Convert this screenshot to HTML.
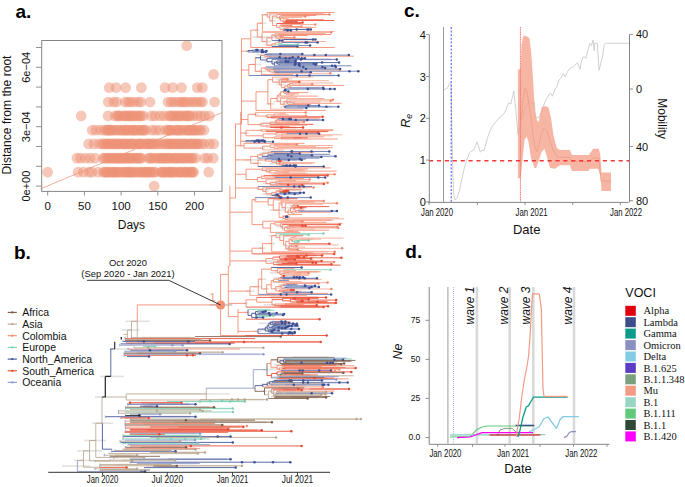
<!DOCTYPE html><html><head><meta charset="utf-8"><style>html,body{margin:0;padding:0;background:#fff;}svg{display:block;font-family:"Liberation Sans",sans-serif;}</style></head><body><svg width="685" height="487" viewBox="0 0 685 487">
<text x="15.5" y="18" font-size="19" fill="#000" font-weight="bold">a.</text>
<line x1="40.5" y1="188.9" x2="221.6" y2="112.8" stroke="#f09a80" stroke-width="0.8"/>
<g fill="#ee9176" fill-opacity="0.5">
<circle cx="47.7" cy="172.2" r="5.35"/>
<circle cx="78.1" cy="172.2" r="5.35"/>
<circle cx="83.4" cy="172.2" r="5.35"/>
<circle cx="89" cy="172.2" r="5.35"/>
<circle cx="92" cy="172.2" r="5.35"/>
<circle cx="98.3" cy="172.2" r="5.35"/>
<circle cx="103.5" cy="172.2" r="5.35"/>
<circle cx="104.9" cy="172.2" r="5.35"/>
<circle cx="106.3" cy="172.2" r="5.35"/>
<circle cx="107.6" cy="172.2" r="5.35"/>
<circle cx="109.5" cy="172.2" r="5.35"/>
<circle cx="111.6" cy="172.2" r="5.35"/>
<circle cx="112.9" cy="172.2" r="5.35"/>
<circle cx="114.1" cy="172.2" r="5.35"/>
<circle cx="115.9" cy="172.2" r="5.35"/>
<circle cx="117.4" cy="172.2" r="5.35"/>
<circle cx="119.4" cy="172.2" r="5.35"/>
<circle cx="121.1" cy="172.2" r="5.35"/>
<circle cx="123.1" cy="172.2" r="5.35"/>
<circle cx="125.7" cy="172.2" r="5.35"/>
<circle cx="126.1" cy="172.2" r="5.35"/>
<circle cx="128.4" cy="172.2" r="5.35"/>
<circle cx="129.6" cy="172.2" r="5.35"/>
<circle cx="130.9" cy="172.2" r="5.35"/>
<circle cx="132.3" cy="172.2" r="5.35"/>
<circle cx="134.3" cy="172.2" r="5.35"/>
<circle cx="136.4" cy="172.2" r="5.35"/>
<circle cx="138.7" cy="172.2" r="5.35"/>
<circle cx="140.6" cy="172.2" r="5.35"/>
<circle cx="142.2" cy="172.2" r="5.35"/>
<circle cx="144.3" cy="172.2" r="5.35"/>
<circle cx="145.8" cy="172.2" r="5.35"/>
<circle cx="147.3" cy="172.2" r="5.35"/>
<circle cx="148.4" cy="172.2" r="5.35"/>
<circle cx="150.3" cy="172.2" r="5.35"/>
<circle cx="151.5" cy="172.2" r="5.35"/>
<circle cx="153.9" cy="172.2" r="5.35"/>
<circle cx="155" cy="172.2" r="5.35"/>
<circle cx="160.9" cy="172.2" r="5.35"/>
<circle cx="161.8" cy="172.2" r="5.35"/>
<circle cx="163.2" cy="172.2" r="5.35"/>
<circle cx="164.8" cy="172.2" r="5.35"/>
<circle cx="166.5" cy="172.2" r="5.35"/>
<circle cx="168.4" cy="172.2" r="5.35"/>
<circle cx="170" cy="172.2" r="5.35"/>
<circle cx="170.7" cy="172.2" r="5.35"/>
<circle cx="172.8" cy="172.2" r="5.35"/>
<circle cx="173.4" cy="172.2" r="5.35"/>
<circle cx="175.7" cy="172.2" r="5.35"/>
<circle cx="178.5" cy="172.2" r="5.35"/>
<circle cx="179.5" cy="172.2" r="5.35"/>
<circle cx="181.4" cy="172.2" r="5.35"/>
<circle cx="183.1" cy="172.2" r="5.35"/>
<circle cx="185.3" cy="172.2" r="5.35"/>
<circle cx="186.3" cy="172.2" r="5.35"/>
<circle cx="188" cy="172.2" r="5.35"/>
<circle cx="190.3" cy="172.2" r="5.35"/>
<circle cx="191.5" cy="172.2" r="5.35"/>
<circle cx="192.5" cy="172.2" r="5.35"/>
<circle cx="193.7" cy="172.2" r="5.35"/>
<circle cx="208.7" cy="172.2" r="5.35"/>
<circle cx="76.9" cy="158.2" r="5.35"/>
<circle cx="80.5" cy="158.2" r="5.35"/>
<circle cx="85.5" cy="158.2" r="5.35"/>
<circle cx="90.1" cy="158.2" r="5.35"/>
<circle cx="95" cy="158.2" r="5.35"/>
<circle cx="103.1" cy="158.2" r="5.35"/>
<circle cx="104.7" cy="158.2" r="5.35"/>
<circle cx="106.7" cy="158.2" r="5.35"/>
<circle cx="107.9" cy="158.2" r="5.35"/>
<circle cx="109.4" cy="158.2" r="5.35"/>
<circle cx="111.1" cy="158.2" r="5.35"/>
<circle cx="113.2" cy="158.2" r="5.35"/>
<circle cx="114.1" cy="158.2" r="5.35"/>
<circle cx="115.7" cy="158.2" r="5.35"/>
<circle cx="117.6" cy="158.2" r="5.35"/>
<circle cx="118.3" cy="158.2" r="5.35"/>
<circle cx="120.5" cy="158.2" r="5.35"/>
<circle cx="121.3" cy="158.2" r="5.35"/>
<circle cx="123.4" cy="158.2" r="5.35"/>
<circle cx="125" cy="158.2" r="5.35"/>
<circle cx="125.7" cy="158.2" r="5.35"/>
<circle cx="128.2" cy="158.2" r="5.35"/>
<circle cx="129" cy="158.2" r="5.35"/>
<circle cx="130.6" cy="158.2" r="5.35"/>
<circle cx="132.3" cy="158.2" r="5.35"/>
<circle cx="133.5" cy="158.2" r="5.35"/>
<circle cx="135.7" cy="158.2" r="5.35"/>
<circle cx="137.5" cy="158.2" r="5.35"/>
<circle cx="138.2" cy="158.2" r="5.35"/>
<circle cx="140.4" cy="158.2" r="5.35"/>
<circle cx="141.3" cy="158.2" r="5.35"/>
<circle cx="148.2" cy="158.2" r="5.35"/>
<circle cx="150.5" cy="158.2" r="5.35"/>
<circle cx="150.8" cy="158.2" r="5.35"/>
<circle cx="154.2" cy="158.2" r="5.35"/>
<circle cx="156" cy="158.2" r="5.35"/>
<circle cx="158.8" cy="158.2" r="5.35"/>
<circle cx="160.1" cy="158.2" r="5.35"/>
<circle cx="162.2" cy="158.2" r="5.35"/>
<circle cx="163.6" cy="158.2" r="5.35"/>
<circle cx="165.1" cy="158.2" r="5.35"/>
<circle cx="166.9" cy="158.2" r="5.35"/>
<circle cx="168.7" cy="158.2" r="5.35"/>
<circle cx="170.1" cy="158.2" r="5.35"/>
<circle cx="172.2" cy="158.2" r="5.35"/>
<circle cx="174.4" cy="158.2" r="5.35"/>
<circle cx="175.2" cy="158.2" r="5.35"/>
<circle cx="177.4" cy="158.2" r="5.35"/>
<circle cx="179.6" cy="158.2" r="5.35"/>
<circle cx="181.1" cy="158.2" r="5.35"/>
<circle cx="183.7" cy="158.2" r="5.35"/>
<circle cx="184.8" cy="158.2" r="5.35"/>
<circle cx="187.3" cy="158.2" r="5.35"/>
<circle cx="189.3" cy="158.2" r="5.35"/>
<circle cx="191" cy="158.2" r="5.35"/>
<circle cx="192.7" cy="158.2" r="5.35"/>
<circle cx="195.7" cy="158.2" r="5.35"/>
<circle cx="204.6" cy="158.2" r="5.35"/>
<circle cx="207.9" cy="158.2" r="5.35"/>
<circle cx="213.3" cy="158.2" r="5.35"/>
<circle cx="88.6" cy="143.9" r="5.35"/>
<circle cx="93.9" cy="143.9" r="5.35"/>
<circle cx="99.2" cy="143.9" r="5.35"/>
<circle cx="102.4" cy="143.9" r="5.35"/>
<circle cx="103.7" cy="143.9" r="5.35"/>
<circle cx="106" cy="143.9" r="5.35"/>
<circle cx="106.9" cy="143.9" r="5.35"/>
<circle cx="108.8" cy="143.9" r="5.35"/>
<circle cx="110.3" cy="143.9" r="5.35"/>
<circle cx="112.4" cy="143.9" r="5.35"/>
<circle cx="113.5" cy="143.9" r="5.35"/>
<circle cx="114.9" cy="143.9" r="5.35"/>
<circle cx="117.3" cy="143.9" r="5.35"/>
<circle cx="118" cy="143.9" r="5.35"/>
<circle cx="119.7" cy="143.9" r="5.35"/>
<circle cx="122" cy="143.9" r="5.35"/>
<circle cx="123.5" cy="143.9" r="5.35"/>
<circle cx="124.9" cy="143.9" r="5.35"/>
<circle cx="126.5" cy="143.9" r="5.35"/>
<circle cx="128.2" cy="143.9" r="5.35"/>
<circle cx="130.1" cy="143.9" r="5.35"/>
<circle cx="131.6" cy="143.9" r="5.35"/>
<circle cx="132.9" cy="143.9" r="5.35"/>
<circle cx="134.9" cy="143.9" r="5.35"/>
<circle cx="137.5" cy="143.9" r="5.35"/>
<circle cx="139" cy="143.9" r="5.35"/>
<circle cx="140.2" cy="143.9" r="5.35"/>
<circle cx="141.6" cy="143.9" r="5.35"/>
<circle cx="144.2" cy="143.9" r="5.35"/>
<circle cx="146.4" cy="143.9" r="5.35"/>
<circle cx="148.2" cy="143.9" r="5.35"/>
<circle cx="149.1" cy="143.9" r="5.35"/>
<circle cx="150.7" cy="143.9" r="5.35"/>
<circle cx="153" cy="143.9" r="5.35"/>
<circle cx="153.3" cy="143.9" r="5.35"/>
<circle cx="155.5" cy="143.9" r="5.35"/>
<circle cx="158.2" cy="143.9" r="5.35"/>
<circle cx="160.5" cy="143.9" r="5.35"/>
<circle cx="163.3" cy="143.9" r="5.35"/>
<circle cx="165.8" cy="143.9" r="5.35"/>
<circle cx="167.5" cy="143.9" r="5.35"/>
<circle cx="168.8" cy="143.9" r="5.35"/>
<circle cx="170.6" cy="143.9" r="5.35"/>
<circle cx="172" cy="143.9" r="5.35"/>
<circle cx="173.4" cy="143.9" r="5.35"/>
<circle cx="175.6" cy="143.9" r="5.35"/>
<circle cx="177.4" cy="143.9" r="5.35"/>
<circle cx="178.9" cy="143.9" r="5.35"/>
<circle cx="181.4" cy="143.9" r="5.35"/>
<circle cx="182.6" cy="143.9" r="5.35"/>
<circle cx="184.3" cy="143.9" r="5.35"/>
<circle cx="185.7" cy="143.9" r="5.35"/>
<circle cx="188.5" cy="143.9" r="5.35"/>
<circle cx="190" cy="143.9" r="5.35"/>
<circle cx="191.3" cy="143.9" r="5.35"/>
<circle cx="193.4" cy="143.9" r="5.35"/>
<circle cx="195" cy="143.9" r="5.35"/>
<circle cx="197.4" cy="143.9" r="5.35"/>
<circle cx="197.9" cy="143.9" r="5.35"/>
<circle cx="201" cy="143.9" r="5.35"/>
<circle cx="204.1" cy="143.9" r="5.35"/>
<circle cx="209.5" cy="143.9" r="5.35"/>
<circle cx="213.8" cy="143.9" r="5.35"/>
<circle cx="92.2" cy="130.2" r="5.35"/>
<circle cx="96" cy="130.2" r="5.35"/>
<circle cx="100.6" cy="130.2" r="5.35"/>
<circle cx="104.5" cy="130.2" r="5.35"/>
<circle cx="106.7" cy="130.2" r="5.35"/>
<circle cx="107.7" cy="130.2" r="5.35"/>
<circle cx="109.2" cy="130.2" r="5.35"/>
<circle cx="110.3" cy="130.2" r="5.35"/>
<circle cx="112" cy="130.2" r="5.35"/>
<circle cx="113.7" cy="130.2" r="5.35"/>
<circle cx="116.3" cy="130.2" r="5.35"/>
<circle cx="118" cy="130.2" r="5.35"/>
<circle cx="120.4" cy="130.2" r="5.35"/>
<circle cx="121.7" cy="130.2" r="5.35"/>
<circle cx="124" cy="130.2" r="5.35"/>
<circle cx="125.4" cy="130.2" r="5.35"/>
<circle cx="127.2" cy="130.2" r="5.35"/>
<circle cx="128.3" cy="130.2" r="5.35"/>
<circle cx="130.7" cy="130.2" r="5.35"/>
<circle cx="133" cy="130.2" r="5.35"/>
<circle cx="133.6" cy="130.2" r="5.35"/>
<circle cx="135" cy="130.2" r="5.35"/>
<circle cx="137.7" cy="130.2" r="5.35"/>
<circle cx="139" cy="130.2" r="5.35"/>
<circle cx="141.1" cy="130.2" r="5.35"/>
<circle cx="143.2" cy="130.2" r="5.35"/>
<circle cx="143.7" cy="130.2" r="5.35"/>
<circle cx="145.9" cy="130.2" r="5.35"/>
<circle cx="151.9" cy="130.2" r="5.35"/>
<circle cx="155.6" cy="130.2" r="5.35"/>
<circle cx="159.7" cy="130.2" r="5.35"/>
<circle cx="165.4" cy="130.2" r="5.35"/>
<circle cx="168.1" cy="130.2" r="5.35"/>
<circle cx="169.3" cy="130.2" r="5.35"/>
<circle cx="170.4" cy="130.2" r="5.35"/>
<circle cx="172.2" cy="130.2" r="5.35"/>
<circle cx="175.4" cy="130.2" r="5.35"/>
<circle cx="176.8" cy="130.2" r="5.35"/>
<circle cx="178.2" cy="130.2" r="5.35"/>
<circle cx="179.7" cy="130.2" r="5.35"/>
<circle cx="182.1" cy="130.2" r="5.35"/>
<circle cx="183.8" cy="130.2" r="5.35"/>
<circle cx="186.7" cy="130.2" r="5.35"/>
<circle cx="188.2" cy="130.2" r="5.35"/>
<circle cx="189.5" cy="130.2" r="5.35"/>
<circle cx="191.4" cy="130.2" r="5.35"/>
<circle cx="193.2" cy="130.2" r="5.35"/>
<circle cx="194.8" cy="130.2" r="5.35"/>
<circle cx="196.2" cy="130.2" r="5.35"/>
<circle cx="199" cy="130.2" r="5.35"/>
<circle cx="200.7" cy="130.2" r="5.35"/>
<circle cx="204" cy="130.2" r="5.35"/>
<circle cx="81.2" cy="115.9" r="5.35"/>
<circle cx="108.1" cy="115.9" r="5.35"/>
<circle cx="115.2" cy="115.9" r="5.35"/>
<circle cx="117.3" cy="115.9" r="5.35"/>
<circle cx="118.8" cy="115.9" r="5.35"/>
<circle cx="120.1" cy="115.9" r="5.35"/>
<circle cx="123.1" cy="115.9" r="5.35"/>
<circle cx="125.1" cy="115.9" r="5.35"/>
<circle cx="126.3" cy="115.9" r="5.35"/>
<circle cx="128.8" cy="115.9" r="5.35"/>
<circle cx="129.8" cy="115.9" r="5.35"/>
<circle cx="131.8" cy="115.9" r="5.35"/>
<circle cx="133" cy="115.9" r="5.35"/>
<circle cx="135.1" cy="115.9" r="5.35"/>
<circle cx="137.2" cy="115.9" r="5.35"/>
<circle cx="139.2" cy="115.9" r="5.35"/>
<circle cx="140.9" cy="115.9" r="5.35"/>
<circle cx="143.2" cy="115.9" r="5.35"/>
<circle cx="151.4" cy="115.9" r="5.35"/>
<circle cx="155" cy="115.9" r="5.35"/>
<circle cx="160" cy="115.9" r="5.35"/>
<circle cx="164.3" cy="115.9" r="5.35"/>
<circle cx="169.1" cy="115.9" r="5.35"/>
<circle cx="170.8" cy="115.9" r="5.35"/>
<circle cx="172.5" cy="115.9" r="5.35"/>
<circle cx="174.8" cy="115.9" r="5.35"/>
<circle cx="176.2" cy="115.9" r="5.35"/>
<circle cx="178.8" cy="115.9" r="5.35"/>
<circle cx="180.2" cy="115.9" r="5.35"/>
<circle cx="182.3" cy="115.9" r="5.35"/>
<circle cx="184.9" cy="115.9" r="5.35"/>
<circle cx="186.8" cy="115.9" r="5.35"/>
<circle cx="188.4" cy="115.9" r="5.35"/>
<circle cx="189.9" cy="115.9" r="5.35"/>
<circle cx="193" cy="115.9" r="5.35"/>
<circle cx="197.2" cy="115.9" r="5.35"/>
<circle cx="200.7" cy="115.9" r="5.35"/>
<circle cx="204.6" cy="115.9" r="5.35"/>
<circle cx="209.4" cy="115.9" r="5.35"/>
<circle cx="108.2" cy="102" r="5.35"/>
<circle cx="113.7" cy="102" r="5.35"/>
<circle cx="116.7" cy="102" r="5.35"/>
<circle cx="125.1" cy="102" r="5.35"/>
<circle cx="128" cy="102" r="5.35"/>
<circle cx="130.6" cy="102" r="5.35"/>
<circle cx="134.1" cy="102" r="5.35"/>
<circle cx="138.3" cy="102" r="5.35"/>
<circle cx="140.8" cy="102" r="5.35"/>
<circle cx="150" cy="102" r="5.35"/>
<circle cx="168" cy="102" r="5.35"/>
<circle cx="171.2" cy="102" r="5.35"/>
<circle cx="174" cy="102" r="5.35"/>
<circle cx="177.8" cy="102" r="5.35"/>
<circle cx="180.6" cy="102" r="5.35"/>
<circle cx="182.8" cy="102" r="5.35"/>
<circle cx="184.9" cy="102" r="5.35"/>
<circle cx="187.5" cy="102" r="5.35"/>
<circle cx="191.1" cy="102" r="5.35"/>
<circle cx="193.9" cy="102" r="5.35"/>
<circle cx="197" cy="102" r="5.35"/>
<circle cx="200.5" cy="102" r="5.35"/>
<circle cx="202.6" cy="102" r="5.35"/>
<circle cx="214.6" cy="102" r="5.35"/>
<circle cx="109.2" cy="87.6" r="5.35"/>
<circle cx="116.1" cy="87.6" r="5.35"/>
<circle cx="125.6" cy="87.6" r="5.35"/>
<circle cx="141.3" cy="87.6" r="5.35"/>
<circle cx="165" cy="87.6" r="5.35"/>
<circle cx="172.7" cy="87.6" r="5.35"/>
<circle cx="181.5" cy="87.6" r="5.35"/>
<circle cx="197.2" cy="87.6" r="5.35"/>
<circle cx="202.4" cy="87.6" r="5.35"/>
<circle cx="213.6" cy="74.4" r="5.35"/>
<circle cx="186.7" cy="45.7" r="5.35"/>
<circle cx="154.2" cy="186.1" r="5.35"/>
</g>
<rect x="41.7" y="40.5" width="180.3" height="150.9" fill="none" stroke="#858585" stroke-width="1"/>
<line x1="36" y1="186.1" x2="41.7" y2="186.1" stroke="#858585" stroke-width="0.9"/>
<line x1="36" y1="166.3" x2="41.7" y2="166.3" stroke="#858585" stroke-width="0.9"/>
<line x1="36" y1="146.5" x2="41.7" y2="146.5" stroke="#858585" stroke-width="0.9"/>
<line x1="36" y1="126.7" x2="41.7" y2="126.7" stroke="#858585" stroke-width="0.9"/>
<line x1="36" y1="106.9" x2="41.7" y2="106.9" stroke="#858585" stroke-width="0.9"/>
<line x1="36" y1="87.1" x2="41.7" y2="87.1" stroke="#858585" stroke-width="0.9"/>
<line x1="36" y1="67.3" x2="41.7" y2="67.3" stroke="#858585" stroke-width="0.9"/>
<line x1="36" y1="47.5" x2="41.7" y2="47.5" stroke="#858585" stroke-width="0.9"/>
<text x="29.8" y="186.1" font-size="11" fill="#111" text-anchor="middle" transform="rotate(-90 29.8 186.1)">0e+00</text>
<text x="29.8" y="126.7" font-size="11" fill="#111" text-anchor="middle" transform="rotate(-90 29.8 126.7)">3e−04</text>
<text x="29.8" y="67.3" font-size="11" fill="#111" text-anchor="middle" transform="rotate(-90 29.8 67.3)">6e−04</text>
<line x1="47.7" y1="191.4" x2="47.7" y2="195.5" stroke="#858585" stroke-width="0.9"/>
<text x="47.7" y="209.5" font-size="11.5" fill="#111" text-anchor="middle">0</text>
<line x1="84.4" y1="191.4" x2="84.4" y2="195.5" stroke="#858585" stroke-width="0.9"/>
<text x="84.4" y="209.5" font-size="11.5" fill="#111" text-anchor="middle">50</text>
<line x1="121.1" y1="191.4" x2="121.1" y2="195.5" stroke="#858585" stroke-width="0.9"/>
<text x="121.1" y="209.5" font-size="11.5" fill="#111" text-anchor="middle">100</text>
<line x1="157.8" y1="191.4" x2="157.8" y2="195.5" stroke="#858585" stroke-width="0.9"/>
<text x="157.8" y="209.5" font-size="11.5" fill="#111" text-anchor="middle">150</text>
<line x1="194.5" y1="191.4" x2="194.5" y2="195.5" stroke="#858585" stroke-width="0.9"/>
<text x="194.5" y="209.5" font-size="11.5" fill="#111" text-anchor="middle">200</text>
<text x="131.4" y="228.5" font-size="12" fill="#111" text-anchor="middle">Days</text>
<text x="10.8" y="115" font-size="12.1" fill="#111" text-anchor="middle" transform="rotate(-90 10.8 115)">Distance from the root</text>
<text x="14" y="259" font-size="19" fill="#000" font-weight="bold">b.</text>
<text x="128" y="266.3" font-size="9.4" fill="#111" text-anchor="middle">Oct 2020</text>
<text x="128" y="276.8" font-size="9.4" fill="#111" text-anchor="middle">(Sep 2020 - Jan 2021)</text>
<line x1="7.7" y1="312.4" x2="16.9" y2="312.4" stroke="#7b5a45" stroke-width="1.1"/>
<circle cx="12.3" cy="312.4" r="1.1" fill="#7b5a45"/>
<text x="22.2" y="316.3" font-size="10.5" fill="#111">Africa</text>
<line x1="7.7" y1="324.1" x2="16.9" y2="324.1" stroke="#b9a58e" stroke-width="1.1"/>
<circle cx="12.3" cy="324.1" r="1.1" fill="#b9a58e"/>
<text x="22.2" y="328" font-size="10.5" fill="#111">Asia</text>
<line x1="7.7" y1="335.7" x2="16.9" y2="335.7" stroke="#f4876b" stroke-width="1.1"/>
<circle cx="12.3" cy="335.7" r="1.1" fill="#f4876b"/>
<text x="22.2" y="339.6" font-size="10.5" fill="#111">Colombia</text>
<line x1="7.7" y1="347.4" x2="16.9" y2="347.4" stroke="#7fd1b5" stroke-width="1.1"/>
<circle cx="12.3" cy="347.4" r="1.1" fill="#7fd1b5"/>
<text x="22.2" y="351.3" font-size="10.5" fill="#111">Europe</text>
<line x1="7.7" y1="359.1" x2="16.9" y2="359.1" stroke="#3b4f93" stroke-width="1.1"/>
<circle cx="12.3" cy="359.1" r="1.1" fill="#3b4f93"/>
<text x="22.2" y="363" font-size="10.5" fill="#111">North_America</text>
<line x1="7.7" y1="370.8" x2="16.9" y2="370.8" stroke="#e8472e" stroke-width="1.1"/>
<circle cx="12.3" cy="370.8" r="1.1" fill="#e8472e"/>
<text x="22.2" y="374.6" font-size="10.5" fill="#111">South_America</text>
<line x1="7.7" y1="382.4" x2="16.9" y2="382.4" stroke="#8c99c9" stroke-width="1.1"/>
<circle cx="12.3" cy="382.4" r="1.1" fill="#8c99c9"/>
<text x="22.2" y="386.3" font-size="10.5" fill="#111">Oceania</text>
<g fill="none" stroke-linecap="butt">
<rect x="285.7" y="13.5" width="41.1" height="2" fill="#f8c3b3" opacity="0.75"/>
<rect x="297.6" y="14.5" width="12.3" height="2" fill="#f8c3b3" opacity="0.75"/>
<rect x="279.4" y="15.2" width="4.9" height="1.6" fill="#e2e2e2" opacity="1"/>
<rect x="290.7" y="16.5" width="3.8" height="2" fill="#f8c3b3" opacity="0.75"/>
<rect x="279.2" y="17.2" width="4" height="1.6" fill="#e2e2e2" opacity="1"/>
<rect x="282.8" y="21.2" width="5.5" height="1.6" fill="#e2e2e2" opacity="1"/>
<rect x="271.7" y="16.9" width="12.2" height="1.6" fill="#e2e2e2" opacity="1"/>
<rect x="286" y="24.5" width="3.7" height="2" fill="#f8c3b3" opacity="0.75"/>
<rect x="298.1" y="26.5" width="13.6" height="2" fill="#f8c3b3" opacity="0.75"/>
<rect x="287.6" y="27.5" width="-0.1" height="2" fill="#f8c3b3" opacity="0.75"/>
<rect x="281.8" y="27.2" width="9.7" height="1.6" fill="#e2e2e2" opacity="1"/>
<rect x="280.6" y="28.8" width="7.2" height="1.6" fill="#e2e2e2" opacity="1"/>
<rect x="270" y="20" width="5.7" height="1.6" fill="#e2e2e2" opacity="1"/>
<rect x="261.3" y="14" width="15.2" height="1.6" fill="#e2e2e2" opacity="1"/>
<rect x="258.7" y="22.4" width="7.8" height="1.6" fill="#e2e2e2" opacity="1"/>
<rect x="298.5" y="33.5" width="24.9" height="2" fill="#f8c3b3" opacity="0.75"/>
<rect x="274.4" y="35.2" width="10.9" height="1.6" fill="#e2e2e2" opacity="1"/>
<rect x="289.4" y="38.5" width="23.1" height="2" fill="#c5cbe0" opacity="0.75"/>
<rect x="269" y="36" width="15.1" height="1.6" fill="#e2e2e2" opacity="1"/>
<rect x="270.8" y="34.3" width="8.6" height="1.6" fill="#e2e2e2" opacity="1"/>
<rect x="274.7" y="39.5" width="6.5" height="2" fill="#c5cbe0" opacity="0.75"/>
<rect x="260.8" y="37" width="17.4" height="1.6" fill="#e2e2e2" opacity="1"/>
<rect x="294.4" y="41.5" width="15.5" height="2" fill="#c5cbe0" opacity="0.75"/>
<rect x="264.8" y="44.4" width="10.6" height="1.6" fill="#e2e2e2" opacity="1"/>
<rect x="260.8" y="40.7" width="10.3" height="1.6" fill="#e2e2e2" opacity="1"/>
<rect x="252" y="36.2" width="17.7" height="1.6" fill="#e2e2e2" opacity="1"/>
<rect x="255.2" y="29.3" width="3.9" height="1.6" fill="#e2e2e2" opacity="1"/>
<rect x="252.5" y="51" width="6" height="2" fill="#c5cbe0" opacity="0.75"/>
<rect x="245.9" y="50.5" width="4.2" height="1.6" fill="#e2e2e2" opacity="1"/>
<rect x="256.2" y="53.8" width="15.8" height="1.6" fill="#e2e2e2" opacity="1"/>
<rect x="266.7" y="55.9" width="4.1" height="1.6" fill="#e2e2e2" opacity="1"/>
<rect x="274.7" y="57.3" width="23.5" height="2" fill="#c5cbe0" opacity="0.75"/>
<rect x="291.4" y="58.4" width="39.7" height="2" fill="#c5cbe0" opacity="0.75"/>
<rect x="284.5" y="62.7" width="28" height="2" fill="#c5cbe0" opacity="0.75"/>
<rect x="271.8" y="62.6" width="11.3" height="1.6" fill="#e2e2e2" opacity="1"/>
<rect x="275.5" y="61.4" width="3.5" height="1.6" fill="#e2e2e2" opacity="1"/>
<rect x="264.5" y="60.9" width="16" height="1.6" fill="#e2e2e2" opacity="1"/>
<rect x="255.2" y="57" width="14.3" height="1.6" fill="#e2e2e2" opacity="1"/>
<rect x="264.5" y="68.8" width="15.6" height="1.6" fill="#e2e2e2" opacity="1"/>
<rect x="271.8" y="72" width="7.5" height="1.6" fill="#e2e2e2" opacity="1"/>
<rect x="272.8" y="71.2" width="3.2" height="1.6" fill="#e2e2e2" opacity="1"/>
<rect x="266.8" y="70" width="7.7" height="1.6" fill="#e2e2e2" opacity="1"/>
<rect x="263.7" y="67.3" width="4.4" height="1.6" fill="#e2e2e2" opacity="1"/>
<rect x="253.9" y="70.5" width="16.5" height="1.6" fill="#e2e2e2" opacity="1"/>
<rect x="249.3" y="63.7" width="12.4" height="1.6" fill="#e2e2e2" opacity="1"/>
<rect x="290.2" y="74.5" width="44.5" height="2" fill="#c5cbe0" opacity="0.75"/>
<rect x="275.7" y="78.1" width="16.9" height="1.6" fill="#e2e2e2" opacity="1"/>
<rect x="277.2" y="79" width="9.5" height="1.6" fill="#e2e2e2" opacity="1"/>
<rect x="288.1" y="83.7" width="3.2" height="1.6" fill="#e2e2e2" opacity="1"/>
<rect x="290" y="85.6" width="-1.8" height="2" fill="#f8c3b3" opacity="0.75"/>
<rect x="305.6" y="86.8" width="14.9" height="2" fill="#c5cbe0" opacity="0.75"/>
<rect x="286.8" y="86.4" width="5" height="1.6" fill="#e2e2e2" opacity="1"/>
<rect x="276.2" y="83.8" width="9.4" height="1.6" fill="#e2e2e2" opacity="1"/>
<rect x="274.7" y="81.4" width="12.1" height="1.6" fill="#e2e2e2" opacity="1"/>
<rect x="290.5" y="93.9" width="2.3" height="2" fill="#f8c3b3" opacity="0.75"/>
<rect x="283.2" y="92.4" width="4.4" height="1.6" fill="#e2e2e2" opacity="1"/>
<rect x="281.4" y="90.9" width="4.6" height="1.6" fill="#e2e2e2" opacity="1"/>
<rect x="287.4" y="101" width="8" height="1.6" fill="#e2e2e2" opacity="1"/>
<rect x="283.6" y="102.3" width="11.9" height="1.6" fill="#e2e2e2" opacity="1"/>
<rect x="297.5" y="105.8" width="35" height="2" fill="#c5cbe0" opacity="0.75"/>
<rect x="280.2" y="106.3" width="9.5" height="1.6" fill="#e2e2e2" opacity="1"/>
<rect x="280.9" y="103.5" width="6.2" height="1.6" fill="#e2e2e2" opacity="1"/>
<rect x="273.5" y="100.6" width="17.8" height="1.6" fill="#e2e2e2" opacity="1"/>
<rect x="275.1" y="97.7" width="3.6" height="1.6" fill="#e2e2e2" opacity="1"/>
<rect x="266.5" y="103.1" width="8.1" height="1.6" fill="#e2e2e2" opacity="1"/>
<rect x="267.9" y="116.5" width="7.5" height="1.6" fill="#e2e2e2" opacity="1"/>
<rect x="265.1" y="115.3" width="3" height="1.6" fill="#e2e2e2" opacity="1"/>
<rect x="251.7" y="113.5" width="7.3" height="1.6" fill="#e2e2e2" opacity="1"/>
<rect x="288" y="119" width="31.1" height="2" fill="#c5cbe0" opacity="0.75"/>
<rect x="274.4" y="119.7" width="15.8" height="1.6" fill="#e2e2e2" opacity="1"/>
<rect x="286.4" y="121.1" width="12.1" height="2" fill="#f8c3b3" opacity="0.75"/>
<rect x="262.4" y="122.4" width="17.4" height="1.6" fill="#e2e2e2" opacity="1"/>
<rect x="279.9" y="125.4" width="5.8" height="2" fill="#f8c3b3" opacity="0.75"/>
<rect x="274.2" y="126.5" width="22" height="2" fill="#f4b0a2" opacity="0.75"/>
<rect x="258" y="123.8" width="6" height="1.6" fill="#e2e2e2" opacity="1"/>
<rect x="285.4" y="129.6" width="40.4" height="2" fill="#f8c3b3" opacity="0.75"/>
<rect x="259.1" y="129.5" width="3.2" height="1.6" fill="#e2e2e2" opacity="1"/>
<rect x="293.6" y="136.9" width="8" height="2" fill="#f4b0a2" opacity="0.75"/>
<rect x="243.8" y="132.2" width="4.9" height="1.6" fill="#e2e2e2" opacity="1"/>
<rect x="256.8" y="140.1" width="4.8" height="2" fill="#c5cbe0" opacity="0.75"/>
<rect x="255.5" y="140.8" width="10.9" height="2" fill="#c5cbe0" opacity="0.75"/>
<rect x="242.1" y="140.5" width="7.1" height="1.6" fill="#e2e2e2" opacity="1"/>
<rect x="285.1" y="143.4" width="4.2" height="2" fill="#f8c3b3" opacity="0.75"/>
<rect x="260.5" y="147.3" width="4.2" height="1.6" fill="#e2e2e2" opacity="1"/>
<rect x="290" y="151.4" width="20.7" height="2" fill="#f8c3b3" opacity="0.75"/>
<rect x="269" y="152.1" width="13.3" height="1.6" fill="#e2e2e2" opacity="1"/>
<rect x="263.2" y="151.4" width="11.5" height="1.6" fill="#e2e2e2" opacity="1"/>
<rect x="259.3" y="152.4" width="17.5" height="1.6" fill="#e2e2e2" opacity="1"/>
<rect x="262.2" y="155.6" width="11.4" height="1.6" fill="#e2e2e2" opacity="1"/>
<rect x="259" y="154" width="5.6" height="1.6" fill="#e2e2e2" opacity="1"/>
<rect x="279.9" y="158.9" width="17.2" height="2" fill="#c5cbe0" opacity="0.75"/>
<rect x="277.2" y="163.4" width="17.6" height="1.6" fill="#e2e2e2" opacity="1"/>
<rect x="283.5" y="164.6" width="11.1" height="2" fill="#c5cbe0" opacity="0.75"/>
<rect x="276.1" y="164.1" width="9" height="1.6" fill="#e2e2e2" opacity="1"/>
<rect x="269.1" y="162.8" width="16.6" height="1.6" fill="#e2e2e2" opacity="1"/>
<rect x="271.6" y="161.4" width="9.3" height="1.6" fill="#e2e2e2" opacity="1"/>
<rect x="253.2" y="162.5" width="7.9" height="1.6" fill="#e2e2e2" opacity="1"/>
<rect x="244.3" y="159.1" width="17.9" height="1.6" fill="#e2e2e2" opacity="1"/>
<rect x="283.3" y="169.1" width="19.7" height="2" fill="#f8c3b3" opacity="0.75"/>
<rect x="281.5" y="172.3" width="23.5" height="2" fill="#f8c3b3" opacity="0.75"/>
<rect x="288.4" y="173.3" width="40.9" height="2" fill="#f8c3b3" opacity="0.75"/>
<rect x="266.4" y="171" width="4.9" height="1.6" fill="#e2e2e2" opacity="1"/>
<rect x="260.3" y="169.6" width="11.2" height="1.6" fill="#e2e2e2" opacity="1"/>
<rect x="271.9" y="174.4" width="53" height="2" fill="#f4b0a2" opacity="0.75"/>
<rect x="272.3" y="176.2" width="4.2" height="1.6" fill="#e2e2e2" opacity="1"/>
<rect x="284.3" y="178.6" width="22.5" height="2" fill="#f8c3b3" opacity="0.75"/>
<rect x="270.9" y="181.5" width="10.8" height="1.6" fill="#e2e2e2" opacity="1"/>
<rect x="262.7" y="182.8" width="16.2" height="1.6" fill="#e2e2e2" opacity="1"/>
<rect x="285.3" y="186.6" width="23.1" height="2" fill="#f8c3b3" opacity="0.75"/>
<rect x="288.4" y="188.7" width="12.5" height="2" fill="#f8c3b3" opacity="0.75"/>
<rect x="283.8" y="190.8" width="-3.9" height="2" fill="#f4b0a2" opacity="0.75"/>
<rect x="289" y="191.8" width="9.6" height="2" fill="#c5cbe0" opacity="0.75"/>
<rect x="277.2" y="191.2" width="5.9" height="1.6" fill="#e2e2e2" opacity="1"/>
<rect x="275.5" y="190.1" width="6.3" height="1.6" fill="#e2e2e2" opacity="1"/>
<rect x="279.3" y="192.9" width="19.9" height="2" fill="#c5cbe0" opacity="0.75"/>
<rect x="266.2" y="194.6" width="16.5" height="1.6" fill="#e2e2e2" opacity="1"/>
<rect x="262.4" y="193.1" width="18.2" height="1.6" fill="#e2e2e2" opacity="1"/>
<rect x="262.3" y="190.5" width="6.1" height="1.6" fill="#e2e2e2" opacity="1"/>
<rect x="257.8" y="188.6" width="12.2" height="1.6" fill="#e2e2e2" opacity="1"/>
<rect x="256.1" y="187.2" width="3.9" height="1.6" fill="#e2e2e2" opacity="1"/>
<rect x="277.7" y="198.8" width="4.5" height="2" fill="#f8c3b3" opacity="0.75"/>
<rect x="298.6" y="199.9" width="23.7" height="2" fill="#f8c3b3" opacity="0.75"/>
<rect x="297.7" y="204.4" width="-5.7" height="2" fill="#f4b0a2" opacity="0.75"/>
<rect x="289.5" y="204.4" width="7.7" height="1.6" fill="#e2e2e2" opacity="1"/>
<rect x="297.6" y="206.7" width="6.4" height="2" fill="#f4b0a2" opacity="0.75"/>
<rect x="292.4" y="207.8" width="-5.9" height="2" fill="#f8c3b3" opacity="0.75"/>
<rect x="286.2" y="206.8" width="10.7" height="1.6" fill="#e2e2e2" opacity="1"/>
<rect x="286.5" y="211.5" width="11.5" height="1.6" fill="#e2e2e2" opacity="1"/>
<rect x="284.2" y="211.4" width="7" height="1.6" fill="#e2e2e2" opacity="1"/>
<rect x="281.3" y="206.9" width="9.8" height="1.6" fill="#e2e2e2" opacity="1"/>
<rect x="285.8" y="215.7" width="-5.2" height="2" fill="#c5cbe0" opacity="0.75"/>
<rect x="281.7" y="215.3" width="9.3" height="1.6" fill="#e2e2e2" opacity="1"/>
<rect x="292.4" y="219.1" width="38.6" height="2" fill="#f8c3b3" opacity="0.75"/>
<rect x="281.3" y="217.9" width="8.5" height="1.6" fill="#e2e2e2" opacity="1"/>
<rect x="269.7" y="209.3" width="16.3" height="1.6" fill="#e2e2e2" opacity="1"/>
<rect x="253.2" y="198.9" width="3.9" height="1.6" fill="#e2e2e2" opacity="1"/>
<rect x="279.5" y="220.2" width="14.9" height="2" fill="#f8c3b3" opacity="0.75"/>
<rect x="299.6" y="225.8" width="36.1" height="2" fill="#f8c3b3" opacity="0.75"/>
<rect x="281.1" y="226.6" width="12.9" height="1.6" fill="#e2e2e2" opacity="1"/>
<rect x="288.2" y="230.3" width="5.2" height="2" fill="#f8c3b3" opacity="0.75"/>
<rect x="276.9" y="226" width="11" height="1.6" fill="#e2e2e2" opacity="1"/>
<rect x="299.7" y="238.2" width="13.3" height="2" fill="#f8c3b3" opacity="0.75"/>
<rect x="292.8" y="240.1" width="6.4" height="1.6" fill="#e2e2e2" opacity="1"/>
<rect x="290.6" y="239.7" width="3.4" height="1.6" fill="#e2e2e2" opacity="1"/>
<rect x="284.8" y="245.8" width="13.1" height="1.6" fill="#e2e2e2" opacity="1"/>
<rect x="285.1" y="244.9" width="13.6" height="1.6" fill="#e2e2e2" opacity="1"/>
<rect x="292.8" y="248.4" width="0.3" height="2" fill="#f8c3b3" opacity="0.75"/>
<rect x="285.1" y="248" width="11.4" height="1.6" fill="#e2e2e2" opacity="1"/>
<rect x="286.4" y="248.1" width="4.7" height="1.6" fill="#e2e2e2" opacity="1"/>
<rect x="268.5" y="234.8" width="15.6" height="1.6" fill="#e2e2e2" opacity="1"/>
<rect x="301.9" y="250.7" width="26" height="2" fill="#f8c3b3" opacity="0.75"/>
<rect x="268" y="242.8" width="7.3" height="1.6" fill="#e2e2e2" opacity="1"/>
<rect x="271.7" y="251.8" width="39.1" height="2" fill="#f8c3b3" opacity="0.75"/>
<rect x="259.2" y="247.4" width="6.5" height="1.6" fill="#e2e2e2" opacity="1"/>
<rect x="296.9" y="254.4" width="19.2" height="2" fill="#f4b0a2" opacity="0.75"/>
<rect x="286.8" y="255.8" width="5.4" height="1.6" fill="#e2e2e2" opacity="1"/>
<rect x="285.7" y="259.2" width="20.2" height="2" fill="#f8c3b3" opacity="0.75"/>
<rect x="306.1" y="260.9" width="26.4" height="2" fill="#f8c3b3" opacity="0.75"/>
<rect x="283.1" y="261.5" width="10.9" height="1.6" fill="#e2e2e2" opacity="1"/>
<rect x="275" y="262.1" width="14.8" height="1.6" fill="#e2e2e2" opacity="1"/>
<rect x="270" y="261.2" width="17.5" height="1.6" fill="#e2e2e2" opacity="1"/>
<rect x="259.6" y="260.1" width="13.3" height="1.6" fill="#e2e2e2" opacity="1"/>
<rect x="298.3" y="270.8" width="19.6" height="2" fill="#f8c3b3" opacity="0.75"/>
<rect x="295.3" y="271.9" width="6" height="2" fill="#f8c3b3" opacity="0.75"/>
<rect x="291.5" y="274.1" width="9.8" height="2" fill="#f8c3b3" opacity="0.75"/>
<rect x="269.7" y="272" width="20.2" height="1.6" fill="#e2e2e2" opacity="1"/>
<rect x="274.4" y="269.9" width="6.3" height="1.6" fill="#e2e2e2" opacity="1"/>
<rect x="275.7" y="278" width="13.7" height="1.6" fill="#e2e2e2" opacity="1"/>
<rect x="273.8" y="277.2" width="13.2" height="1.6" fill="#e2e2e2" opacity="1"/>
<rect x="271.9" y="281.2" width="12.7" height="1.6" fill="#e2e2e2" opacity="1"/>
<rect x="288.1" y="283.7" width="3.7" height="2" fill="#c5cbe0" opacity="0.75"/>
<rect x="282.1" y="283.4" width="13" height="1.6" fill="#e2e2e2" opacity="1"/>
<rect x="278.2" y="284.2" width="10.9" height="1.6" fill="#e2e2e2" opacity="1"/>
<rect x="300.5" y="285.9" width="15.6" height="2" fill="#c5cbe0" opacity="0.75"/>
<rect x="276.9" y="287.4" width="14.1" height="1.6" fill="#e2e2e2" opacity="1"/>
<rect x="278.4" y="285.8" width="5.1" height="1.6" fill="#e2e2e2" opacity="1"/>
<rect x="280.2" y="290.9" width="6.2" height="1.6" fill="#e2e2e2" opacity="1"/>
<rect x="274.2" y="287.9" width="3.2" height="1.6" fill="#e2e2e2" opacity="1"/>
<rect x="264.2" y="288.2" width="4.8" height="1.6" fill="#e2e2e2" opacity="1"/>
<rect x="259.6" y="278.3" width="6.6" height="1.6" fill="#e2e2e2" opacity="1"/>
<rect x="253" y="285.9" width="8.9" height="1.6" fill="#e2e2e2" opacity="1"/>
<rect x="245.7" y="290.3" width="9.5" height="1.6" fill="#e2e2e2" opacity="1"/>
<rect x="270.2" y="296.4" width="47.8" height="2" fill="#f4b0a2" opacity="0.75"/>
<rect x="307.3" y="300.8" width="18.7" height="2" fill="#f4b0a2" opacity="0.75"/>
<rect x="291.7" y="301.2" width="13" height="1.6" fill="#e2e2e2" opacity="1"/>
<rect x="278.1" y="304.9" width="5.2" height="1.6" fill="#e2e2e2" opacity="1"/>
<rect x="263.7" y="304.1" width="17.9" height="1.6" fill="#e2e2e2" opacity="1"/>
<rect x="279.4" y="306.1" width="41" height="2" fill="#f4b0a2" opacity="0.75"/>
<rect x="243.7" y="302.6" width="4.2" height="1.6" fill="#e2e2e2" opacity="1"/>
<rect x="261.8" y="312.1" width="7.9" height="2" fill="#c5cbe0" opacity="0.75"/>
<rect x="267.6" y="313.9" width="8.3" height="2" fill="#c5cbe0" opacity="0.75"/>
<rect x="254.8" y="314.4" width="3.1" height="1.6" fill="#e2e2e2" opacity="1"/>
<rect x="252.7" y="312.5" width="5" height="1.6" fill="#e2e2e2" opacity="1"/>
<rect x="244.4" y="311.6" width="5.7" height="1.6" fill="#e2e2e2" opacity="1"/>
<rect x="280.1" y="321.1" width="8.7" height="2" fill="#f4b0a2" opacity="0.75"/>
<rect x="270.2" y="321.7" width="12.4" height="1.6" fill="#e2e2e2" opacity="1"/>
<rect x="268.9" y="321.4" width="6.8" height="1.6" fill="#e2e2e2" opacity="1"/>
<rect x="258.9" y="322.5" width="19.5" height="1.6" fill="#e2e2e2" opacity="1"/>
<rect x="284.1" y="324.2" width="10.3" height="2" fill="#c5cbe0" opacity="0.75"/>
<rect x="270.4" y="324.8" width="11.7" height="1.6" fill="#e2e2e2" opacity="1"/>
<rect x="269.4" y="326.5" width="4.5" height="1.6" fill="#e2e2e2" opacity="1"/>
<rect x="274.8" y="329.6" width="-2.7" height="2" fill="#c5cbe0" opacity="0.75"/>
<rect x="259.9" y="329.4" width="17.8" height="1.6" fill="#e2e2e2" opacity="1"/>
<rect x="271.3" y="330.3" width="-4.5" height="2" fill="#c5cbe0" opacity="0.75"/>
<rect x="270.3" y="331.7" width="4.8" height="1.6" fill="#e2e2e2" opacity="1"/>
<rect x="268" y="331.1" width="5.2" height="1.6" fill="#e2e2e2" opacity="1"/>
<rect x="262" y="328.3" width="6.8" height="1.6" fill="#e2e2e2" opacity="1"/>
<rect x="253.7" y="330.6" width="7.4" height="1.6" fill="#e2e2e2" opacity="1"/>
<rect x="209.6" y="304.1" width="22.7" height="1.6" fill="#c8c8c8" opacity="1"/>
<rect x="125.7" y="320.5" width="24" height="1.6" fill="#e2e2e2" opacity="1"/>
<rect x="122" y="329.2" width="18" height="1.6" fill="#e2e2e2" opacity="1"/>
<rect x="142.2" y="336.6" width="48" height="2" fill="#e6ddd2" opacity="0.75"/>
<rect x="136.8" y="340.4" width="53.6" height="2" fill="#c5cbe0" opacity="0.75"/>
<rect x="230.5" y="340.9" width="88.6" height="2" fill="#f4b0a2" opacity="0.75"/>
<rect x="154" y="342" width="79.2" height="2" fill="#f4b0a2" opacity="0.75"/>
<rect x="144.9" y="345.4" width="8.5" height="2" fill="#cdeee3" opacity="0.75"/>
<rect x="147.9" y="349.2" width="35.4" height="2" fill="#c5cbe0" opacity="0.75"/>
<rect x="136.8" y="351.2" width="82.8" height="2" fill="#e6ddd2" opacity="0.75"/>
<rect x="137.4" y="352.3" width="58.3" height="2" fill="#d8cbbf" opacity="0.75"/>
<rect x="151.2" y="353.2" width="108.8" height="2" fill="#d6dbef" opacity="0.75"/>
<rect x="100" y="375.6" width="24" height="1.6" fill="#e2e2e2" opacity="1"/>
<rect x="110" y="348.2" width="20" height="1.6" fill="#e2e2e2" opacity="1"/>
<rect x="160" y="393.2" width="70" height="1.4" fill="#e2e2e2" opacity="1"/>
<rect x="292.8" y="356.4" width="34.9" height="2" fill="#d8cbbf" opacity="0.75"/>
<rect x="276.3" y="358.5" width="16.1" height="1.6" fill="#e2e2e2" opacity="1"/>
<rect x="294.1" y="360.2" width="55.9" height="2" fill="#d8cbbf" opacity="0.75"/>
<rect x="277.4" y="360.8" width="14.3" height="1.6" fill="#e2e2e2" opacity="1"/>
<rect x="282.8" y="361.4" width="3.4" height="1.6" fill="#e2e2e2" opacity="1"/>
<rect x="276" y="359.9" width="13.8" height="1.6" fill="#e2e2e2" opacity="1"/>
<rect x="276.5" y="361.3" width="5.3" height="1.6" fill="#e2e2e2" opacity="1"/>
<rect x="271.2" y="359" width="10.1" height="1.6" fill="#e2e2e2" opacity="1"/>
<rect x="274" y="363.9" width="18.7" height="1.6" fill="#e2e2e2" opacity="1"/>
<rect x="278.3" y="364.6" width="7" height="1.6" fill="#e2e2e2" opacity="1"/>
<rect x="303.4" y="366.4" width="35.8" height="2" fill="#f8c3b3" opacity="0.75"/>
<rect x="294.4" y="367.9" width="38.7" height="2" fill="#f8c3b3" opacity="0.75"/>
<rect x="302.5" y="370.2" width="28.8" height="2" fill="#f8c3b3" opacity="0.75"/>
<rect x="270" y="368.3" width="16.3" height="1.6" fill="#e2e2e2" opacity="1"/>
<rect x="289.4" y="373.2" width="3.4" height="2" fill="#f8c3b3" opacity="0.75"/>
<rect x="281.1" y="373.1" width="5.8" height="1.6" fill="#e2e2e2" opacity="1"/>
<rect x="280.9" y="372.5" width="5.2" height="1.6" fill="#e2e2e2" opacity="1"/>
<rect x="293.2" y="374" width="16.9" height="2" fill="#f4b0a2" opacity="0.75"/>
<rect x="278" y="373.4" width="7.3" height="1.6" fill="#e2e2e2" opacity="1"/>
<rect x="275.6" y="372.7" width="2.5" height="1.6" fill="#e2e2e2" opacity="1"/>
<rect x="291.1" y="375.6" width="45.1" height="2" fill="#d6dbef" opacity="0.75"/>
<rect x="286.3" y="376.3" width="34.3" height="2" fill="#d8cbbf" opacity="0.75"/>
<rect x="272.8" y="376.1" width="9.7" height="1.6" fill="#e2e2e2" opacity="1"/>
<rect x="305.9" y="377.1" width="21.3" height="2" fill="#f4b0a2" opacity="0.75"/>
<rect x="274.3" y="378.4" width="12.4" height="1.6" fill="#e2e2e2" opacity="1"/>
<rect x="270.2" y="377" width="17" height="1.6" fill="#e2e2e2" opacity="1"/>
<rect x="262" y="368.8" width="11.6" height="1.6" fill="#e2e2e2" opacity="1"/>
<rect x="304.7" y="381.6" width="41.2" height="2" fill="#c5cbe0" opacity="0.75"/>
<rect x="266.6" y="381" width="12.6" height="1.6" fill="#e2e2e2" opacity="1"/>
<rect x="285.1" y="383.8" width="37.8" height="2" fill="#c5cbe0" opacity="0.75"/>
<rect x="260.3" y="383.6" width="12.9" height="1.6" fill="#e2e2e2" opacity="1"/>
<rect x="278.5" y="386.9" width="20.9" height="2" fill="#d8cbbf" opacity="0.75"/>
<rect x="309.5" y="388" width="38.1" height="2" fill="#f4b0a2" opacity="0.75"/>
<rect x="282.9" y="389" width="13.1" height="2" fill="#f4b0a2" opacity="0.75"/>
<rect x="276.3" y="390.8" width="3.8" height="1.6" fill="#e2e2e2" opacity="1"/>
<rect x="285.2" y="392.2" width="40.2" height="2" fill="#c5cbe0" opacity="0.75"/>
<rect x="273.7" y="392.9" width="9.3" height="1.6" fill="#e2e2e2" opacity="1"/>
<rect x="270.5" y="391.9" width="11.3" height="1.6" fill="#e2e2e2" opacity="1"/>
<rect x="273.8" y="394.4" width="3.1" height="1.6" fill="#e2e2e2" opacity="1"/>
<rect x="290" y="396.4" width="28.4" height="2" fill="#d8cbbf" opacity="0.75"/>
<rect x="271" y="395.5" width="8.3" height="1.6" fill="#e2e2e2" opacity="1"/>
<rect x="269.9" y="390.3" width="3.7" height="1.6" fill="#e2e2e2" opacity="1"/>
<rect x="261.8" y="390.5" width="5.4" height="1.6" fill="#e2e2e2" opacity="1"/>
<rect x="220.2" y="398.6" width="43.7" height="2" fill="#e6ddd2" opacity="0.75"/>
<rect x="195.9" y="400.5" width="48.1" height="2" fill="#cdeee3" opacity="0.75"/>
<rect x="141.3" y="401.7" width="38.1" height="2" fill="#f4b0a2" opacity="0.75"/>
<rect x="148.5" y="403.2" width="41.1" height="2" fill="#c5cbe0" opacity="0.75"/>
<rect x="143.1" y="405.2" width="9.6" height="2" fill="#c5cbe0" opacity="0.75"/>
<rect x="144.9" y="406.3" width="64.6" height="2" fill="#d8cbbf" opacity="0.75"/>
<rect x="141.2" y="407.5" width="90.3" height="2" fill="#cdeee3" opacity="0.75"/>
<rect x="136.3" y="412.2" width="50.2" height="2" fill="#e6ddd2" opacity="0.75"/>
<rect x="139" y="413.2" width="17.5" height="2" fill="#d6dbef" opacity="0.75"/>
<rect x="139.7" y="415.7" width="50.8" height="2" fill="#c5cbe0" opacity="0.75"/>
<rect x="124.7" y="416.9" width="20.6" height="2" fill="#f4b0a2" opacity="0.75"/>
<rect x="200.6" y="418.1" width="155.8" height="2" fill="#e6ddd2" opacity="0.75"/>
<rect x="174.6" y="421.2" width="92.3" height="2" fill="#d8cbbf" opacity="0.75"/>
<rect x="142.7" y="422.5" width="71" height="2" fill="#f8c3b3" opacity="0.75"/>
<rect x="178.8" y="425.9" width="61.7" height="2" fill="#f4b0a2" opacity="0.75"/>
<rect x="168.6" y="428.4" width="56.3" height="2" fill="#f4b0a2" opacity="0.75"/>
<rect x="146.8" y="429.2" width="110.3" height="2" fill="#f4b0a2" opacity="0.75"/>
<rect x="155.3" y="432.3" width="40.1" height="2" fill="#d6dbef" opacity="0.75"/>
<rect x="137.5" y="433.3" width="23.1" height="2" fill="#f4b0a2" opacity="0.75"/>
<rect x="131.7" y="434.4" width="65.6" height="2" fill="#cdeee3" opacity="0.75"/>
<rect x="155.2" y="437.9" width="49.3" height="2" fill="#cdeee3" opacity="0.75"/>
<rect x="140.9" y="446.3" width="41.7" height="2" fill="#d8cbbf" opacity="0.75"/>
<rect x="140.9" y="447.4" width="55.5" height="2" fill="#f8c3b3" opacity="0.75"/>
<rect x="125.1" y="449.5" width="41.4" height="2" fill="#e6ddd2" opacity="0.75"/>
<rect x="166.5" y="451.4" width="36.6" height="2" fill="#e6ddd2" opacity="0.75"/>
<rect x="115.1" y="454.2" width="17.4" height="2" fill="#e6ddd2" opacity="0.75"/>
<rect x="168" y="458.2" width="59" height="2" fill="#c5cbe0" opacity="0.75"/>
<rect x="122.2" y="459.2" width="49.8" height="2" fill="#e6ddd2" opacity="0.75"/>
<rect x="157.1" y="462.4" width="40.8" height="2" fill="#d6dbef" opacity="0.75"/>
<rect x="114.5" y="463.6" width="53" height="2" fill="#e6ddd2" opacity="0.75"/>
<rect x="146.1" y="464.8" width="91.2" height="2" fill="#e6ddd2" opacity="0.75"/>
<rect x="157.4" y="465.1" width="14.5" height="2" fill="#d8cbbf" opacity="0.75"/>
<rect x="140.6" y="470.4" width="1.6" height="2" fill="#c5cbe0" opacity="0.75"/>
<rect x="95" y="396.2" width="11" height="1.6" fill="#e2e2e2" opacity="1"/>
<rect x="92" y="422.4" width="21" height="1.6" fill="#e2e2e2" opacity="1"/>
<rect x="84" y="439.7" width="22" height="1.6" fill="#e2e2e2" opacity="1"/>
<rect x="77" y="450" width="25" height="1.6" fill="#e2e2e2" opacity="1"/>
<rect x="74" y="459.6" width="17" height="1.6" fill="#e2e2e2" opacity="1"/>
<rect x="62" y="465.2" width="28" height="1.6" fill="#e2e2e2" opacity="1"/>
<path d="M267.2 12.5H334.7M276.8 14.5H329.4M281.6 15.5H316.3M281.6 15.5V16.5M281.5 17.5V18.5M286 19.5H324M286 19.5V20.5M282.9 20H286M282.9 20V22M280.5 18H281.5M280.5 21H282.9M280.5 18V21M279.6 16H281.6M279.6 19.5H280.5M279.6 16V19.5M276.8 17.8H279.6M276.8 14.5V17.8M282 25.5H291M282 26.5H301.3M282 25.5V26.5M281.1 26H282M281.1 24.5V26M287.2 27.5V28.5M284.3 28H287.2M284.3 28V29.5M283.2 28.8H284.3M283.2 28.8V30.5M280 25.2H281.1M280 29.6H283.2M280 25.2V29.6M276.7 27.4H280M276.7 23.5V27.4M272.4 16.1H276.8M272.4 25.5H276.7M272.4 16.1V25.5M269.8 20.8H272.4M269.8 13.5V20.8M267.2 17.1H269.8M267.2 12.5V17.1M262.4 14.8H267.2M262.4 14.8V31.5M278.3 34.5H330.9M279.8 35.5H307.6M279.8 36.5H283.5M279.8 35.5V36.5M278.3 36H279.8M278.3 34.5V36M280.2 37.5H294.4M283.9 38.5V39.5M280.2 39H283.9M280.2 37.5V39M276.4 35.2H278.3M276.4 38.2H280.2M276.4 35.2V38.2M275.1 36.8H276.4M275.1 33.5V36.8M271.9 35.1H275.1M271.9 35.1V40.5M281.7 41.5V42.5M278.7 42H281.7M278.7 42V43.5M275.2 42.8H278.7M275.2 42.8V45M271.9 43.9H275.2M271.9 43.9V46.5M266.9 37.8H271.9M266.9 45.2H271.9M266.9 37.8V45.2M262.1 41.5H266.9M262.1 32.5V41.5M257.3 23.2H262.4M257.3 37H262.1M257.3 23.2V37M250.8 47.5H334.7M250.8 30.1H257.3M250.8 30.1V47.5M241.5 38.8H250.8M241.5 51.2H248M269.3 56.2H353.8M269.3 56.2V57.2M264.8 56.7H269.3M264.8 54.6V56.7M260.5 55.6H264.8M273.1 69V70.1M275.5 72.2V73.3M274.1 72.8H275.5M274.1 71.2V72.8M269.7 69.6H273.1M269.7 72H274.1M269.7 69.6V72M267.8 70.8H269.7M267.8 68V70.8M265.8 69.4H267.8M265.8 66.9V69.4M261.3 74.4H293.1M261.3 68.1H265.8M261.3 68.1V74.4M255.3 71.3H261.3M255.3 57.8V71.3M248.8 64.5H255.3M248.8 64.5V75.5M241.5 70H248.8M282.5 78.3H288.5M282.5 79.5H287.5M282.5 78.3V79.5M281.5 78.9H282.5M281.5 78.9V80.7M292.5 83V84.2M289.3 85.4H344.1M289.3 83.6H292.5M289.3 83.6V85.4M289.8 86.6V87.8M287.6 84.5H289.3M287.6 87.2H289.8M287.6 84.5V87.2M284.7 85.9H287.6M284.7 85.9V89M281.3 87.4H284.7M281.3 81.9V87.4M279.2 79.8H281.5M279.2 84.6H281.3M279.2 79.8V84.6M272.6 82.2H279.2M272.6 77.1V82.2M287.5 92.6H308.3M287.5 91.4V92.6M288.1 93.8H299M288.1 93.8V94.9M286.1 92H287.5M286.1 94.3H288.1M286.1 92V94.3M283.8 93.2H286.1M283.8 90.2V93.2M280.7 96.1H317.8M280.7 91.7H283.8M280.7 91.7V96.1M278.9 93.9H280.7M278.9 93.9V97.3M293.1 103.3H341.5M293.1 102.1V103.3M290.1 102.7H293.1M290.1 100.9V102.7M287.8 104.5H311M287.8 101.8H290.1M287.8 101.8V104.5M286.9 103.1H287.8M286.9 99.7V103.1M284 101.4H286.9M284 101.4V107.1M280.4 104.3H284M280.4 98.5V104.3M277.2 95.6H278.9M277.2 101.4H280.4M277.2 95.6V101.4M270.7 98.5H277.2M270.7 98.5V109.2M267.9 79.7H272.6M267.9 103.9H270.7M267.9 79.7V103.9M256 110.4H325.8M256 91.8H267.9M256 91.8V110.4M241.5 101.1H256M280.1 113.6V114.7M273.9 114.1H280.1M273.9 114.1V115.7M266.9 114.9H273.9M266.9 114.9V117.3M255.4 116.1H266.9M255.4 112.5V116.1M282 120V121.1M278.5 120.5H282M278.5 118.9V120.5M276.7 122.1H303.9M276.7 119.7H278.5M276.7 119.7V122.1M275.6 123.2H299.7M275.6 120.9H276.7M275.6 120.9V123.2M270.1 122.1H275.6M270.1 122.1V124.3M270.4 126.4H289.5M270.4 126.4V127.5M266.1 126.9H270.4M266.1 125.3V126.9M260.9 123.2H270.1M260.9 126.1H266.1M260.9 123.2V126.1M248 114.3H255.4M248 124.6H260.9M248 114.3V124.6M240.7 119.5H248M266.1 130.6H333.1M266.1 130.6V131.6M261.1 131.1H266.1M261.1 129.5V131.1M286.8 133.7V134.8M282.1 134.2H286.8M282.1 134.2V135.8M275.9 135H282.1M275.9 132.7V135M274.6 136.9H324.1M281 139H337.7M281 137.9V139M274.6 138.4H281M274.6 136.9V138.4M263.1 133.9H275.9M263.1 137.7H274.6M263.1 133.9V137.7M246 130.3H261.1M246 135.8H263.1M246 130.3V135.8M240.7 133H246M240.7 141.3H246M244 143.3H304.5M274.4 144.4H296.9M274.4 144.4V145.5M277.4 147.7H332.7M277.4 147.7V148.8M274 148.3H277.4M274 146.6V148.3M270.1 144.9H274.4M270.1 147.4H274M270.1 144.9V147.4M262.6 146.2H270.1M262.6 146.2V149.9M244 148.1H262.6M244 143.3V148.1M235.5 145.7H244M274.1 152.4V153.4M271.2 152.9H274.1M271.2 151.5V152.9M267.9 152.2H271.2M267.9 152.2V154.3M262.2 153.2H267.9M262.2 153.2V156.4M257.6 154.8H262.2M257.6 154.8V158.1M280.3 162.8H315M280.3 161.8V162.8M283.4 163.7V164.6M281.8 164.2H283.4M281.8 164.2V165.6M279.5 162.3H280.3M279.5 164.9H281.8M279.5 162.3V164.9M276.3 163.6H279.5M276.3 160.9V163.6M271.7 162.2H276.3M271.7 159.9V162.2M265.3 161.1H271.7M265.3 159V161.1M258 160H265.3M258 160V166.5M250.7 156.4H257.6M250.7 163.3H258M250.7 156.4V163.3M235.5 159.9H250.7M262.3 167.9H330.8M266.2 169H308M277 171.1H336.6M277 170.1V171.1M275.4 172.2H289.7M278.3 174.3H334.5M278.3 173.3V174.3M275.4 173.8H278.3M275.4 172.2V173.8M269.2 170.6H277M269.2 173H275.4M269.2 170.6V173M266.2 171.8H269.2M266.2 169V171.8M262.3 170.4H266.2M262.3 167.9V170.4M274.8 176.4H318.8M274.8 176.4V177.5M264.2 177H274.8M264.2 175.4V177M261.3 178.6H303.7M261.3 176.2H264.2M261.3 176.2V178.6M278.7 180.7H295.9M278.7 181.8H309.7M278.7 180.7V181.8M279.4 182.8V183.9M276 181.2H278.7M276 183.4H279.4M276 181.2V183.4M270.3 182.3H276M270.3 182.3V185M266 183.6H270.3M266 179.6V183.6M257.3 177.4H261.3M257.3 181.6H266M257.3 177.4V181.6M246 169.2H262.3M246 179.5H257.3M246 169.2V179.5M235.5 174.3H246M266 188.6H282.1M279 189.7H302.2M279 189.7V192M276.2 190.9H279M276.2 190.9V193.9M271.7 192.4H276.2M271.7 192.4V195.4M266 193.9H271.7M266 188.6V193.9M262.8 191.3H266M262.8 187.6V191.3M258 189.4H262.8M258 186.5V189.4M235.5 188H258M281.1 200.9H323.7M282.1 202.1H314.5M285.3 203.2H336.9M293.9 204.3V206M292.9 205.2H293.9M292.9 205.2V207.7M291.6 206.4H292.9M291.6 206.4V208.8M298.6 209.9H304.4M298.6 209.9V211.1M295.5 212.2H330.9M295.5 210.5H298.6M295.5 210.5V212.2M292 211.3H295.5M292 211.3V213.3M290.5 207.6H291.6M290.5 212.3H292M290.5 207.6V212.3M288.1 214.4H302.3M288.1 210H290.5M288.1 210V214.4M285.3 212.2H288.1M285.3 203.2V212.2M282.1 207.7H285.3M282.1 202.1V207.7M281.1 204.9H282.1M281.1 200.9V204.9M285.6 215.6H287.9M285.6 215.6V216.7M287.4 220.1H333.4M287.4 218.9V220.1M285 219.5H287.4M285 217.8V219.5M283.3 216.1H285.6M283.3 218.7H285M283.3 216.1V218.7M279.1 202.9H281.1M279.1 217.4H283.3M279.1 202.9V217.4M273.3 210.1H279.1M273.3 199.8V210.1M268.2 205H273.3M268.2 198.7V205M255.1 201.8H268.2M255.1 197.6V201.8M262.8 221.2H302.3M275 222.3H326.6M289 226.8H337.3M289 225.7V226.8M288.7 227.9H338.1M288.7 227.9V229.1M287 226.2H289M287 228.5H288.7M287 226.2V228.5M286.3 230.2H329M286.3 231.3H298.5M286.3 230.2V231.3M284.5 227.4H287M284.5 230.8H286.3M284.5 227.4V230.8M282.2 229.1H284.5M282.2 224.6V229.1M280.6 226.8H282.2M280.6 223.4V226.8M275 225.1H280.6M275 222.3V225.1M270.4 232.4H300.2M270.4 223.7H275M270.4 223.7V232.4M262.8 228.1H270.4M262.8 221.2V228.1M252 199.7H255.1M252 224.6H262.8M252 199.7V224.6M229.9 212.2H252M293.3 237H296.4M293.3 237V238.1M292.3 239.2V241.8M291.1 237.5H293.3M291.1 240.5H292.3M291.1 237.5V240.5M289.1 239H291.1M289.1 239V243.8M293.1 246V247.1M291.2 246.6H293.1M291.2 244.9V246.6M290.5 249.4H297.7M290.5 248.3V249.4M289.2 245.7H291.2M289.2 248.8H290.5M289.2 245.7V248.8M288.3 247.3H289.2M288.3 247.3V250.5M285.8 241.4H289.1M285.8 248.9H288.3M285.8 241.4V248.9M283.6 245.1H285.8M283.6 235.8V245.1M279.8 240.5H283.6M279.8 234.7V240.5M275.9 237.6H279.8M275.9 233.6V237.6M271.7 235.6H275.9M271.7 235.6V251.7M262.5 252.8H313.1M262.5 243.6H271.7M262.5 243.6V252.8M252 248.2H262.5M252 248.2V253.9M229.9 251.1H252M280.1 260.2H313.5M280.1 259.4V260.2M272.9 259.8H280.1M272.9 257.1V259.8M287.6 261.9H334.1M287.6 261.9V262.7M282 262.3H287.6M282 262.3V263.5M277.4 262.9H282M277.4 261.1V262.9M273.5 262H277.4M273.5 262V264.7M266 258.5H272.9M266 263.3H273.5M266 258.5V263.3M229.9 260.9H266M277.3 268.6H294.6M284.9 270.8H296.1M284.9 269.7V270.8M283.3 271.8H320.7M283.3 270.2H284.9M283.3 270.2V271.8M284.5 272.9H308.5M284.5 272.9V274M282.6 275.1H309.2M282.6 275.1V276.1M281.8 273.4H284.5M281.8 275.6H282.6M281.8 273.4V275.6M279.9 271H283.3M279.9 274.5H281.8M279.9 271V274.5M277.3 272.8H279.9M277.3 268.6V272.8M271.2 270.7H277.3M271.2 267.5V270.7M282.7 278.3V279.4M280.6 278.8H282.7M280.6 277.2V278.8M278.5 278H280.6M278.5 278V280.4M278.6 281.5V282.6M273.5 279.2H278.5M273.5 282H278.6M273.5 279.2V282M286.6 283.6H318.4M286.6 283.6V284.7M283.6 284.2H286.6M283.6 284.2V285.8M284.6 287.4V289M281.1 285H283.6M281.1 288.2H284.6M281.1 285V288.2M282.7 291.2V292.2M279.4 291.7H282.7M279.4 290.1V291.7M275.8 286.6H281.1M275.8 290.9H279.4M275.8 286.6V290.9M271.2 280.6H273.5M271.2 288.8H275.8M271.2 280.6V288.8M266.6 293.3H328M266.6 284.7H271.2M266.6 284.7V293.3M261.7 269.1H271.2M261.7 289H266.6M261.7 269.1V289M258.3 279.1H261.7M258.3 279.1V294.4M250 286.7H258.3M250 286.7V295.5M228.3 291.1H250M284.7 303.6H337.1M284.7 304.4H303.6M284.7 303.6V304.4M274.6 304H284.7M274.6 304V305.8M272 304.9H274.6M272 299.6V304.9M256.7 302.2H272M256.7 297.4V302.2M246 299.8H256.7M246 299.8V307.1M228.3 303.4H246M238 312.4H248M238 331.4H258M241.5 38.8V124M240.7 112V146.7M235.5 124V198M229.9 186V266M228.3 266V316.6M238 309V333.5M228.3 316.6H238M220.6 274.4H228.3M235.5 124H241.5M229.9 198H235.5M228.3 266H229.9M220.6 274.4V335.5M137.3 304.9H220.6M137.3 304.9V321.3M220.6 335.5H245M128 349H240M283.7 365.8H354.4M283.7 366.6H321.5M283.7 365.8V366.6M281.6 366.2H283.7M281.6 364.7V366.2M282.4 367.4H345.3M282.4 367.4V368.5M281.5 369.6V370.8M279.3 367.9H282.4M279.3 370.2H281.5M279.3 367.9V370.2M277.1 365.4H281.6M277.1 369.1H279.3M277.1 365.4V369.1M270.9 367.3H277.1M270.9 359.8V367.3M284.7 374.2H300.3M282.4 378.9H348.6M282.4 378.9V379.6M280.1 379.2H282.4M267 363.5H270.9M262.8 386.9H322.8M278.1 391.1H334.4M278.1 391.1V392.1M276.6 391.6H278.1M125 423.5H215M125.4 426H244.5M125 448.4H200" stroke="#f4876b" stroke-width="0.85"/>
<path d="M269.8 13.5H323.8M281.6 16.5H305.2M281.5 17.5H302.5M281.5 18.5H288.8M281.1 24.5H315.3M287.2 27.5H316.4M287.2 28.5H288.8M262.4 31.5H334.7M262.1 32.5H331.1M275.1 33.5H325.3M283.9 38.5H306.8M281.7 41.5H326M273.1 70.1H339.4M275.5 73.3H330.3M272.6 77.1H313.6M281.5 80.7H328.9M292.5 83H333.4M292.5 84.2H312.2M289.8 86.6H290.8M288.1 94.9H294.9M278.9 97.3H297M280.4 98.5H324.5M286.9 99.7H332.9M290.1 100.9H330.7M293.1 102.1H320.5M270.7 109.2H303.1M255.4 112.5H305.7M280.1 113.6H285.9M280.1 114.7H288.5M273.9 115.7H306M282 121.1H307.3M266.1 125.3H307.4M261.1 129.5H333.3M286.8 134.8H341.8M282.1 135.8H332.4M274.4 145.5H333M274 146.6H316.2M277.4 148.8H328.7M262.6 149.9H283.8M274.1 152.4H314.5M280.3 161.8H289.2M283.4 163.7H312.5M283.4 164.6H285.4M277 170.1H305.3M278.3 173.3H307.3M266 179.6H309.5M279.4 182.8H327.6M262.8 187.6H313.6M273.3 199.8H289.2M293.9 204.3H323.2M291.6 208.8H294.3M292 213.3H294.8M285 217.8H339.3M287.4 218.9H344M280.6 223.4H343.1M288.7 229.1H315.1M293.3 238.1H343.6M292.3 239.2H321M291.2 244.9H338.7M293.1 246H296.4M293.1 247.1H305.3M290.5 248.3H342.1M288.3 250.5H302M271.7 251.7H334.7M284.5 274H309.4M282.7 279.4H321.6M278.6 281.5H301.4M278.6 282.6H327.5M284.6 289H331.4M282.7 291.2H301.6M250 295.5H307M284.4 368.9H337.9M281.5 369.6H339.3M282.8 371.2H335.1M267.2 385.8H305.7" stroke="#f6a690" stroke-width="0.85"/>
<path d="M286 20.5H334.3M285 21.5H297.7M285 22.5H302.6M285 21.5V22.5M282.9 22H285M276.7 23.5H301.7M281.3 81.9H299.3M271.4 116.8H322.6M271.4 117.9H320.4M271.4 116.8V117.9M266.9 117.3H271.4M270.1 124.3H313.5M270.4 127.5H303M266.1 131.6H328.2M275.9 132.7H317.9M281 137.9H307.9M276.3 160.9H280.4M264.2 175.4H327.5M279.4 183.9H323.8M270.3 185H302.3M282.7 190.7H287.9M282.7 191.8H285.8M282.7 190.7V191.8M280.4 191.2H282.7M280.4 191.2V192.8M279 192H280.4M274.2 196H278.7M268.2 198.7H297.5M297.1 205.4H299.1M297.1 206.6H329.2M297.1 205.4V206.6M293.9 206H297.1M292.9 207.7H306.5M282.2 224.6H339.7M289 225.7H305.6M283.6 235.8H303.3M289.1 243.8H329.4M252 253.9H334.2M286.8 255.4H322.1M288.9 256.2H296.9M288.9 257H304.2M288.9 256.2V257M286.8 256.6H288.9M286.8 255.4V256.6M284.5 257.8H341.4M284.5 258.6H311.1M284.5 257.8V258.6M279.4 256H286.8M279.4 258.2H284.5M279.4 256V258.2M280.1 259.4H294.8M272.9 257.1H279.4M277.4 261.1H321.6M287.6 262.7H316M282 263.5H296.3M277.8 264.3H331.4M277.8 265.1H340.5M277.8 264.3V265.1M273.5 264.7H277.8M282.6 276.1H283.9M279.4 290.1H293.6M256.7 297.4H326M282.7 298.3H318.7M295.1 299.2H308.6M295.1 300.1H336.2M295.1 299.2V300.1M299.7 300.9H302.5M299.7 301.8H327.8M299.7 300.9V301.8M296.9 302.7H335.9M296.9 301.4H299.7M296.9 301.4V302.7M290.3 299.6H295.1M290.3 302H296.9M290.3 299.6V302M282.7 300.8H290.3M282.7 298.3V300.8M281.3 305.3H316.7M281.3 306.2H328M281.3 305.3V306.2M274.6 305.8H281.3M272 299.6H282.7M246 307.1H323.5M276.5 322.1H290.9M276.5 322.1V322.9M275.1 322.5H276.5M245 335.5H326.7M246 319.2H319.6M125 338.6H255M195 341.9H320.6M126.4 343H235M124.2 355.3H196M282.7 365.1H336.2M284.4 368.1H355.6M284.4 368.1V368.9M282.4 368.5H284.4M277 371.9H351.3M281.6 375H317.9M277 371.9V375M280.1 378.1H334.2M280.1 378.1V379.2M277.1 378.7H280.1M271.6 373.5H277M271.6 373.5V377.8M267 375.6H271.6M271.6 389H349M273.6 390H301.7M130 402.7H181.4M120.7 417.9H148.7M150 426.9H243.3M125.4 428.1H230M130 429.4H228M130 430.2H261.7M125.4 431.3H291.3M125 432.3H228M130 434.3H165M130 445.9H301.5M99.7 467.4H126.5" stroke="#e8472e" stroke-width="0.85"/>
<path d="M284.3 29.5H310.8M283.9 39.5H315.4M271.9 46.5H297.4M252.5 50V51M248 50.5H252.5M248 50.5V52M266.7 54H302.3M266.7 54V55.1M264.8 54.6H266.7M267 58.3H304.8M279.8 60.5V61.5M277.6 62.6H339M279.6 63.7V64.8M277.6 64.2H279.6M277.6 62.6V64.2M276.7 61H279.8M276.7 63.4H277.6M276.7 61V63.4M274.4 62.2H276.7M274.4 62.2V65.8M272 64H274.4M272 59.4V64M267 61.7H272M267 58.3V61.7M260.5 60H267M260.5 55.6V60M273.1 69H340.1M275.5 72.2H310.7M255.3 57.8H260.5M284.7 89H334.7M286 105.6V106.8M285.1 106.2H286M285.1 106.2V108M284 107.1H285.1M278.5 118.9H290.8M282 120H323M251.1 140.4H263.2M251.1 140.4V141.1M246 140.7H251.1M246 140.7V141.8M274.1 153.4H299.8M271.4 155.2V156.2M267.5 155.7H271.4M267.5 155.7V157.1M262.2 156.4H267.5M265.3 159H305.9M281.8 165.6H295.8M258 166.5H323.7M280.4 192.8H303.8M274.2 194.9H277.6M274.2 194.9V196M271.7 195.4H274.2M298.6 211.1H336.9M271.2 267.5H301.6M280.6 277.2H303.2M282.7 278.3H316.9M286.9 286.9V287.9M284.6 287.4H286.9M282.7 292.2H311.6M257.4 310.8V312.1M260 313.1V313.9M258.9 314.9H283.1M258.9 313.5H260M258.9 313.5V314.9M256.3 314.2H258.9M256.3 314.2V316.2M255.5 311.5H257.4M255.5 315.2H256.3M255.5 311.5V315.2M251.7 317.6H264.1M251.7 313.3H255.5M251.7 313.3V317.6M248 315.4H251.7M248 309.4V315.4M275.1 322.5V323.7M272.1 323.1H275.1M272.1 321.4V323.1M270.2 324.4H284.2M270.2 322.2H272.1M270.2 322.2V324.4M276.2 325.2V326M274.5 326.7V327.5M273.3 325.6H276.2M273.3 327.1H274.5M273.3 325.6V327.1M272.2 326.4H273.3M272.2 326.4V328.3M268.8 323.3H270.2M268.8 327.3H272.2M268.8 323.3V327.3M267.2 329H299M267.2 325.3H268.8M267.2 325.3V329M271.6 329.8H274.2M271.6 329.8V330.6M272.8 332.1H294.7M272.8 332.1V332.9M271.1 332.5H272.8M271.1 331.3V332.5M268.7 330.2H271.6M268.7 331.9H271.1M268.7 330.2V331.9M265.3 327.2H267.2M265.3 331H268.7M265.3 327.2V331M258 329.1H265.3M258 329.1V333.6M122.7 341.4H195M121 343.9H229.6M130 350.2H187M127 356.6H149M110.3 349H114.7M110.8 349V376.4M285.3 359.7V360.4M284.6 360.1H285.3M285 362.8H332.9M283.5 359.3V362.2M280 360.7H283.5M282.8 370.4V371.2M281.5 370.8H282.8M274.2 380.5H321.9M274.2 380.5V381.6M272.7 381.1H274.2M272.7 381.1V382.6M269.5 381.8H272.7M269.5 381.8V384.2M267.2 383H269.5M267.2 383V385.8M262.8 384.4H267.2M262.8 384.4V386.9M277.4 393.2V394.2M276.6 393.7H277.4M255 385.6H262.8M127.7 404.2H195.5M140 406.2H157M105.4 416.7H195.5M123 436.6H230.5M120.7 442.4H232.8M111.4 451.3H175.6M130 459.2H230.5M130 462.2H290.3M144 467.6H235M140 471.4H145M102.4 423.2V449.2M102.4 449.2H112.2" stroke="#3b4f93" stroke-width="0.85"/>
<path d="M283.2 30.5H290.9M271.9 40.5H282.4M281.7 42.5H317.6M278.5 45.5H310.1M252.5 50H262.3M252.5 51H266.5M248 52H265.6M266.7 55.1H348.8M269.3 57.2H298.3M272 59.4H336.8M279.8 60.5H295.7M279.8 61.5H295.2M279.6 63.7H316.4M279.6 64.8H315.6M274.4 65.8H351.5M265.8 66.9H335.9M267.8 68H325.1M274.1 71.2H358.3M248.8 75.5H338.6M289.8 87.8H323.2M283.8 90.2H285.4M287.5 91.4H289.3M286 105.6H319M286 106.8H338.4M285.1 108H306.4M286.8 133.7H319.2M251.1 141.1H264.6M246 141.8H273M271.2 151.5H329.3M267.9 154.3H330.1M271.4 155.2H311.9M271.4 156.2H335.5M267.5 157.1H321.4M257.6 158.1H319.5M271.7 159.9H301.6M274.8 177.5H325.1M258 186.5H312M276.2 193.9H300.3M255.1 197.6H310.7M285.6 216.7H287.3M278.5 280.4H288.9M286.6 284.7H297.5M283.6 285.8H315M286.9 286.9H318.9M286.9 287.9H309.4M258.3 294.4H331.1M258.3 311.2H265.5M257.4 312.1H263.7M260 313.1H276.7M260 313.9H284.1M272.1 321.4H285.4M276.5 322.9H289.1M275.1 323.7H296.9M276.2 325.2H297.2M276.2 326H291.8M274.5 326.7H298.9M274.5 327.5H285.9M272.2 328.3H285.2M271.6 330.6H278.6M271.1 331.3H272.2M272.8 332.9H294.6M258 333.6H292.4M285.3 359.7H343M282.8 370.4H330.9M272.7 382.6H347.7M270.3 384.8H328.4M277.4 393.2H332" stroke="#6272ab" stroke-width="0.85"/>
<path d="M278.7 43.5H282.3M278.5 44.5H298.1M278.5 44.5V45.5M275.2 45H278.5M275.9 233.6H323.4M279.8 234.7H308.7M297 240.4H308.5M297 241.5H298.5M297 240.4V241.5M294.4 242.6H298.6M294.4 240.9H297M294.4 240.9V242.6M292.3 241.8H294.4M284.9 269.7H330.6M248 309.4H270.5M258.3 310.4H274.6M258.3 310.4V311.2M257.4 310.8H258.3M257.1 315.8H273.3M257.1 316.6H270.9M257.1 315.8V316.6M256.3 316.2H257.1M143 346.4H155M285.4 358.9H351.7M206 401H245M167 401.5H245M125.4 408.5H232.8M125 412H233M123 435.4H200M123 438.9H209.5M123 443.4H198" stroke="#7fd1b5" stroke-width="0.85"/>
<path d="M137.3 321.3V337.6M131.5 321.3H137.3M131.5 321.3V338M127.4 330H131.5M127.4 330V338.8M123.5 334.4H127.4M131.5 337.6H195M125 339.6H200M134 347.8H263.4M125 352.2H222.5M126.2 393.9H206.3M126.2 400H206.3M126.2 393.9V400M106 397H126.2M206.3 388.2V400M285.7 362H337.3M280.4 375.8H353.7M270.3 383.7H323.7M270.3 383.7V384.8M269.5 384.2H270.3M278.1 392.1H326.2M277.4 394.2H325.4M276.6 391.6V393.7M276.1 395.3H320.9M276.1 392.7H276.6M276.1 392.7V395.3M275.2 394H276.1M275.2 394V396.4M274.3 395.2H275.2M274.3 395.2V397.4M273.6 396.3H274.3M273.6 390V396.3M271.6 393.2H273.6M271.6 389V393.2M268.6 391.1H271.6M268.6 391.1V398.5M264.5 394.8H268.6M200 399.6H267M130 409.7H200M118.4 410.9H211.8M118.4 413.2H190M130 419.1H360.8M125 421.2H240M150 437.4H276M120 441.2H180M123 449.4H195.5M115 450.5H170M150 452.4H205M109 453.6H197.8M104.3 455.2H137M113.7 457.6H144M110 460.2H175M95 461.1H132M100 464.6H170M99.7 465.8H242M95 468.8H137M77.4 460.4H83.5M83.5 450.8V467.2M83.5 450.8H89.6M89.6 440.5V460.7M89.6 440.5H95.8M95.8 423.2V457.4M95.8 423.2H102M102 397V423.2M83.5 467.2H100M89.6 460.7H110M95.8 457.4H118" stroke="#b9a58e" stroke-width="0.85"/>
<path d="M195 336.6H280.7M125 340.4H210M124 353.3H200M277.6 357.4H334.4M285.3 360.4H355.4M285.7 361.2H351.5M285.7 361.2V362M285 361.6H285.7M285 361.6V362.8M283.5 362.2H285M280 363.5H344.1M280 360.7V363.5M277.6 362.1H280M277.6 357.4V362.1M282.7 364.3H341.1M282.7 364.3V365.1M281.6 364.7H282.7M270.9 359.8H277.6M283.8 372.7H343.4M284.7 373.5H302.2M284.7 373.5V374.2M283.8 373.9H284.7M283.8 372.7V373.9M281.6 373.3H283.8M281.6 373.3V375M280.4 374.2H281.6M280.4 374.2V375.8M277 375H280.4M279.1 377.3H324.1M267 363.5V375.6M274.2 381.6H291.5M264.5 387.9H304.3M275.2 396.4H330.1M274.3 397.4H326M268.6 398.5H307.6M264.5 387.9V394.8M255 391.3H264.5M255 385.6V391.3M125.4 407.3H214M130 420.2H255M130 422.2H271.9M125 424.9H222.3M125.4 447.3H186M110 456.3H160M153.4 466.1H176.8M100 470H150" stroke="#7b5a45" stroke-width="0.85"/>
<path d="M131.5 337.6V336.6M125 336.6V338.6M125 338.6V339.6M125 339.6V340.4M122.7 340.4V341.4M122.7 341.4V341.9M126.4 341.9V343M121 343V343.9M119.8 345.2H182.6M119.8 343.9V345.2M119.8 345.2V346.4M134 346.4V347.8M128 347.8V349M128 349V350.2M125 351.3H175M125 350.2V351.3M125 351.3V352.2M124 352.2V353.3M124 354.2H263.4M124 353.3V354.2M124 354.2V355.3M124.2 355.3V356.6M206.3 388.2H253.3M285.4 358.1H346.4M285.4 358.1V358.9M284.6 358.5H285.4M284.6 358.5V360.1M283.5 359.3H284.6M279.1 376.6H338.8M279.1 376.6V377.3M282.4 379.6H336.3M277.1 376.9H279.1M277.1 376.9V378.7M271.6 377.8H277.1M253.3 369.6V388.5M253.3 369.6H267M253.3 388.5H255M130 401.5V402.7M127.7 402.7V404.2M127.7 404.2V406.2M125.4 406.2V407.3M125.4 407.3V408.5M125.4 408.5V409.7M118.4 409.7V410.9M118.4 410.9V412M118.4 412V413.2M130 414.2H160M118.4 413.2V414.2M125.4 414.2V415.5M105.4 415.5V416.7M105.4 416.7V417.9M120.7 417.9V419.1M130 419.1V420.2M125 420.2V421.2M125 421.2V422.2M125 422.2V423.5M125 423.5V424.9M125 424.9V426M125.4 426V426.9M125.4 426.9V428.1M125.4 428.1V429.4M130 429.4V430.2M125.4 430.2V431.3M125 431.3V432.3M130 433.3H200M125 432.3V433.3M130 433.3V434.3M123 434.3V435.4M123 435.4V436.6M123 436.6V437.4M123 437.4V438.9M125 440.1H195M123 438.9V440.1M120 440.1V441.2M120 441.2V442.4M120.7 442.4V443.4M128 444.6H210M123 443.4V444.6M128 444.6V445.9M125.4 445.9V447.3M125 447.3V448.4M123 448.4V449.4M115 449.4V450.5M111.4 450.5V451.3M111.4 451.3V452.4M109 452.4V453.6M104.3 453.6V455.2M104.3 455.2V456.3M110 456.3V457.6M113.7 457.6V459.2M110 459.2V460.2M95 460.2V461.1M95 461.1V462.2M137 463.4H200M130 462.2V463.4M100 463.4V464.6M99.7 464.6V465.8M99.7 465.8V466.1M99.7 466.1V467.4M99.7 467.4V467.6M95 467.6V468.8M95 468.8V470M100 470V471.4M77.4 460.4V471.4M77.4 471.4H140" stroke="#8c99c9" stroke-width="0.85"/>
<path d="M121.3 337V339.5" stroke="#222222" stroke-width="1.3"/>
<path d="M114.7 341.7V349M105.3 376.4H110.8M102 397H105.7" stroke="#222222" stroke-width="1.1"/>
<path d="M105.3 376.4V397" stroke="#222222" stroke-width="1.2"/>
<path d="M125.4 415.5H139.4" stroke="#222222" stroke-width="0.85"/>
</g>
<g fill="#f4876b"><circle cx="329.4" cy="14.5" r="1.25"/><circle cx="305.2" cy="16.5" r="1.25"/><circle cx="315.3" cy="24.5" r="1.25"/><circle cx="291" cy="25.5" r="1.25"/><circle cx="301.3" cy="26.5" r="1.25"/><circle cx="331.1" cy="32.5" r="1.25"/><circle cx="294.4" cy="37.5" r="1.25"/><circle cx="339.4" cy="70.1" r="1.25"/><circle cx="330.3" cy="73.3" r="1.25"/><circle cx="287.5" cy="79.5" r="1.25"/><circle cx="312.2" cy="84.2" r="1.25"/><circle cx="332.9" cy="99.7" r="1.25"/><circle cx="330.7" cy="100.9" r="1.25"/><circle cx="305.7" cy="112.5" r="1.25"/><circle cx="306" cy="115.7" r="1.25"/><circle cx="303.9" cy="122.1" r="1.25"/><circle cx="296.9" cy="144.4" r="1.25"/><circle cx="334.5" cy="174.3" r="1.25"/><circle cx="309.5" cy="179.6" r="1.25"/><circle cx="327.6" cy="182.8" r="1.25"/><circle cx="313.6" cy="187.6" r="1.25"/><circle cx="323.7" cy="200.9" r="1.25"/><circle cx="336.9" cy="203.2" r="1.25"/><circle cx="294.3" cy="208.8" r="1.25"/><circle cx="302.3" cy="221.2" r="1.25"/><circle cx="337.3" cy="226.8" r="1.25"/><circle cx="338.1" cy="227.9" r="1.25"/><circle cx="296.4" cy="246" r="1.25"/><circle cx="342.1" cy="248.3" r="1.25"/><circle cx="297.7" cy="249.4" r="1.25"/><circle cx="334.7" cy="251.7" r="1.25"/><circle cx="334.1" cy="261.9" r="1.25"/><circle cx="308.5" cy="272.9" r="1.25"/><circle cx="327.5" cy="282.6" r="1.25"/><circle cx="318.4" cy="283.6" r="1.25"/><circle cx="331.4" cy="289" r="1.25"/><circle cx="339.3" cy="369.6" r="1.25"/><circle cx="335.1" cy="371.2" r="1.25"/><circle cx="322.8" cy="386.9" r="1.25"/><circle cx="246.8" cy="426" r="1.25"/></g>
<g fill="#e8472e"><circle cx="302.6" cy="22.5" r="1.25"/><circle cx="299.3" cy="81.9" r="1.25"/><circle cx="322.6" cy="116.8" r="1.25"/><circle cx="303" cy="127.5" r="1.25"/><circle cx="281.4" cy="127.5" r="1.25"/><circle cx="317.9" cy="132.7" r="1.25"/><circle cx="280.4" cy="160.9" r="1.25"/><circle cx="279.2" cy="160.9" r="1.25"/><circle cx="327.5" cy="175.4" r="1.25"/><circle cx="323.8" cy="183.9" r="1.25"/><circle cx="302.3" cy="185" r="1.25"/><circle cx="288.2" cy="185" r="1.25"/><circle cx="287.9" cy="190.7" r="1.25"/><circle cx="285.9" cy="190.7" r="1.25"/><circle cx="285.8" cy="191.8" r="1.25"/><circle cx="283.9" cy="191.8" r="1.25"/><circle cx="278.7" cy="196" r="1.25"/><circle cx="301.1" cy="207.7" r="1.25"/><circle cx="339.7" cy="224.6" r="1.25"/><circle cx="305.6" cy="225.7" r="1.25"/><circle cx="302.5" cy="225.7" r="1.25"/><circle cx="329.4" cy="243.8" r="1.25"/><circle cx="334.2" cy="253.9" r="1.25"/><circle cx="322.1" cy="255.4" r="1.25"/><circle cx="306.6" cy="255.4" r="1.25"/><circle cx="296.9" cy="256.2" r="1.25"/><circle cx="304.2" cy="257" r="1.25"/><circle cx="298.9" cy="257" r="1.25"/><circle cx="341.4" cy="257.8" r="1.25"/><circle cx="311.1" cy="258.6" r="1.25"/><circle cx="294.8" cy="259.4" r="1.25"/><circle cx="285.8" cy="259.4" r="1.25"/><circle cx="321.6" cy="261.1" r="1.25"/><circle cx="316" cy="262.7" r="1.25"/><circle cx="312.6" cy="262.7" r="1.25"/><circle cx="296.3" cy="263.5" r="1.25"/><circle cx="331.4" cy="264.3" r="1.25"/><circle cx="283.9" cy="276.1" r="1.25"/><circle cx="293.6" cy="290.1" r="1.25"/><circle cx="291.4" cy="290.1" r="1.25"/><circle cx="326" cy="297.4" r="1.25"/><circle cx="294.6" cy="298.3" r="1.25"/><circle cx="308.6" cy="299.2" r="1.25"/><circle cx="336.2" cy="300.1" r="1.25"/><circle cx="302.5" cy="300.9" r="1.25"/><circle cx="302" cy="300.9" r="1.25"/><circle cx="317.6" cy="301.8" r="1.25"/><circle cx="335.9" cy="302.7" r="1.25"/><circle cx="316.7" cy="305.3" r="1.25"/><circle cx="328" cy="306.2" r="1.25"/><circle cx="323.5" cy="307.1" r="1.25"/><circle cx="326.7" cy="335.5" r="1.25"/><circle cx="319.6" cy="319.2" r="1.25"/><circle cx="244" cy="341.9" r="1.25"/><circle cx="320.6" cy="341.9" r="1.25"/><circle cx="187" cy="355.3" r="1.25"/><circle cx="192.8" cy="355.3" r="1.25"/><circle cx="355.6" cy="368.1" r="1.25"/><circle cx="351.3" cy="371.9" r="1.25"/><circle cx="314.5" cy="378.1" r="1.25"/><circle cx="349" cy="389" r="1.25"/><circle cx="298.4" cy="389" r="1.25"/><circle cx="301.7" cy="390" r="1.25"/><circle cx="130" cy="402.7" r="1.25"/><circle cx="181.4" cy="402.7" r="1.25"/><circle cx="148.7" cy="417.9" r="1.25"/><circle cx="243.3" cy="426.9" r="1.25"/><circle cx="228" cy="429.4" r="1.25"/><circle cx="261.7" cy="430.2" r="1.25"/><circle cx="291.3" cy="431.3" r="1.25"/><circle cx="159.3" cy="434.3" r="1.25"/><circle cx="190.8" cy="445.9" r="1.25"/><circle cx="301.5" cy="445.9" r="1.25"/><circle cx="126.5" cy="467.4" r="1.25"/></g>
<g fill="#3b4f93"><circle cx="310.8" cy="29.5" r="1.25"/><circle cx="307.4" cy="29.5" r="1.25"/><circle cx="308.5" cy="29.5" r="1.25"/><circle cx="296.7" cy="29.5" r="1.25"/><circle cx="290.9" cy="30.5" r="1.25"/><circle cx="287.6" cy="30.5" r="1.25"/><circle cx="315.4" cy="39.5" r="1.25"/><circle cx="313" cy="39.5" r="1.25"/><circle cx="282.4" cy="40.5" r="1.25"/><circle cx="279.4" cy="40.5" r="1.25"/><circle cx="317.6" cy="42.5" r="1.25"/><circle cx="305.5" cy="42.5" r="1.25"/><circle cx="307.1" cy="42.5" r="1.25"/><circle cx="310.1" cy="45.5" r="1.25"/><circle cx="297.4" cy="46.5" r="1.25"/><circle cx="262.3" cy="50" r="1.25"/><circle cx="257.4" cy="50" r="1.25"/><circle cx="256.4" cy="50" r="1.25"/><circle cx="266.5" cy="51" r="1.25"/><circle cx="265.6" cy="52" r="1.25"/><circle cx="261.9" cy="52" r="1.25"/><circle cx="263.1" cy="52" r="1.25"/><circle cx="302.3" cy="54" r="1.25"/><circle cx="280.3" cy="54" r="1.25"/><circle cx="348.8" cy="55.1" r="1.25"/><circle cx="325.8" cy="55.1" r="1.25"/><circle cx="314.4" cy="55.1" r="1.25"/><circle cx="298.3" cy="57.2" r="1.25"/><circle cx="279.6" cy="57.2" r="1.25"/><circle cx="292.7" cy="57.2" r="1.25"/><circle cx="304.8" cy="58.3" r="1.25"/><circle cx="285.7" cy="58.3" r="1.25"/><circle cx="289.6" cy="58.3" r="1.25"/><circle cx="301.9" cy="58.3" r="1.25"/><circle cx="336.8" cy="59.4" r="1.25"/><circle cx="301" cy="59.4" r="1.25"/><circle cx="295.7" cy="60.5" r="1.25"/><circle cx="295.2" cy="61.5" r="1.25"/><circle cx="285.8" cy="61.5" r="1.25"/><circle cx="288.3" cy="61.5" r="1.25"/><circle cx="286.5" cy="61.5" r="1.25"/><circle cx="339" cy="62.6" r="1.25"/><circle cx="322" cy="62.6" r="1.25"/><circle cx="316.4" cy="63.7" r="1.25"/><circle cx="313.7" cy="63.7" r="1.25"/><circle cx="295.6" cy="63.7" r="1.25"/><circle cx="299.2" cy="63.7" r="1.25"/><circle cx="315.6" cy="64.8" r="1.25"/><circle cx="294.9" cy="64.8" r="1.25"/><circle cx="298.9" cy="64.8" r="1.25"/><circle cx="299.7" cy="65.8" r="1.25"/><circle cx="334.9" cy="65.8" r="1.25"/><circle cx="332.1" cy="65.8" r="1.25"/><circle cx="335.9" cy="66.9" r="1.25"/><circle cx="303.3" cy="66.9" r="1.25"/><circle cx="322.4" cy="66.9" r="1.25"/><circle cx="325.1" cy="68" r="1.25"/><circle cx="340.1" cy="69" r="1.25"/><circle cx="306" cy="69" r="1.25"/><circle cx="358.3" cy="71.2" r="1.25"/><circle cx="349.4" cy="71.2" r="1.25"/><circle cx="301.6" cy="71.2" r="1.25"/><circle cx="310.7" cy="72.2" r="1.25"/><circle cx="338.6" cy="75.5" r="1.25"/><circle cx="309.5" cy="75.5" r="1.25"/><circle cx="297" cy="75.5" r="1.25"/><circle cx="323.2" cy="87.8" r="1.25"/><circle cx="334.7" cy="89" r="1.25"/><circle cx="330.2" cy="89" r="1.25"/><circle cx="323.6" cy="89" r="1.25"/><circle cx="307.8" cy="89" r="1.25"/><circle cx="285.4" cy="90.2" r="1.25"/><circle cx="285" cy="90.2" r="1.25"/><circle cx="288.3" cy="91.4" r="1.25"/><circle cx="319" cy="105.6" r="1.25"/><circle cx="308.3" cy="105.6" r="1.25"/><circle cx="338.4" cy="106.8" r="1.25"/><circle cx="326.4" cy="106.8" r="1.25"/><circle cx="306.4" cy="108" r="1.25"/><circle cx="290.8" cy="118.9" r="1.25"/><circle cx="290" cy="118.9" r="1.25"/><circle cx="282.9" cy="118.9" r="1.25"/><circle cx="289.4" cy="118.9" r="1.25"/><circle cx="323" cy="120" r="1.25"/><circle cx="307.4" cy="120" r="1.25"/><circle cx="295.8" cy="120" r="1.25"/><circle cx="319.2" cy="133.7" r="1.25"/><circle cx="306.4" cy="133.7" r="1.25"/><circle cx="300" cy="133.7" r="1.25"/><circle cx="263.2" cy="140.4" r="1.25"/><circle cx="258.8" cy="140.4" r="1.25"/><circle cx="256.8" cy="140.4" r="1.25"/><circle cx="261.3" cy="140.4" r="1.25"/><circle cx="264.6" cy="141.1" r="1.25"/><circle cx="258.7" cy="141.1" r="1.25"/><circle cx="273" cy="141.8" r="1.25"/><circle cx="254.6" cy="141.8" r="1.25"/><circle cx="259" cy="141.8" r="1.25"/><circle cx="264.7" cy="141.8" r="1.25"/><circle cx="329.3" cy="151.5" r="1.25"/><circle cx="291.6" cy="151.5" r="1.25"/><circle cx="291.9" cy="151.5" r="1.25"/><circle cx="311.6" cy="151.5" r="1.25"/><circle cx="299.8" cy="153.4" r="1.25"/><circle cx="311.9" cy="155.2" r="1.25"/><circle cx="288" cy="155.2" r="1.25"/><circle cx="335.5" cy="156.2" r="1.25"/><circle cx="291.4" cy="156.2" r="1.25"/><circle cx="321.4" cy="157.1" r="1.25"/><circle cx="299.8" cy="159" r="1.25"/><circle cx="278.9" cy="159" r="1.25"/><circle cx="301.6" cy="159.9" r="1.25"/><circle cx="288.8" cy="159.9" r="1.25"/><circle cx="295.8" cy="165.6" r="1.25"/><circle cx="293.9" cy="165.6" r="1.25"/><circle cx="290" cy="165.6" r="1.25"/><circle cx="286.6" cy="165.6" r="1.25"/><circle cx="323.7" cy="166.5" r="1.25"/><circle cx="295.4" cy="166.5" r="1.25"/><circle cx="325.1" cy="177.5" r="1.25"/><circle cx="290.6" cy="177.5" r="1.25"/><circle cx="318.3" cy="177.5" r="1.25"/><circle cx="303.7" cy="186.5" r="1.25"/><circle cx="294.2" cy="186.5" r="1.25"/><circle cx="299.4" cy="186.5" r="1.25"/><circle cx="303.8" cy="192.8" r="1.25"/><circle cx="300.1" cy="192.8" r="1.25"/><circle cx="289.2" cy="192.8" r="1.25"/><circle cx="284.7" cy="193.9" r="1.25"/><circle cx="294.6" cy="193.9" r="1.25"/><circle cx="277.6" cy="194.9" r="1.25"/><circle cx="276.7" cy="194.9" r="1.25"/><circle cx="310.7" cy="197.6" r="1.25"/><circle cx="287.8" cy="197.6" r="1.25"/><circle cx="281.2" cy="197.6" r="1.25"/><circle cx="280" cy="197.6" r="1.25"/><circle cx="336.9" cy="211.1" r="1.25"/><circle cx="331.8" cy="211.1" r="1.25"/><circle cx="287.3" cy="216.7" r="1.25"/><circle cx="286.1" cy="216.7" r="1.25"/><circle cx="301.6" cy="267.5" r="1.25"/><circle cx="303.2" cy="277.2" r="1.25"/><circle cx="294" cy="277.2" r="1.25"/><circle cx="299.7" cy="277.2" r="1.25"/><circle cx="296.7" cy="277.2" r="1.25"/><circle cx="316.9" cy="278.3" r="1.25"/><circle cx="304.7" cy="278.3" r="1.25"/><circle cx="299.4" cy="278.3" r="1.25"/><circle cx="315" cy="285.8" r="1.25"/><circle cx="305" cy="285.8" r="1.25"/><circle cx="305.1" cy="285.8" r="1.25"/><circle cx="318.9" cy="286.9" r="1.25"/><circle cx="311.5" cy="286.9" r="1.25"/><circle cx="309.4" cy="287.9" r="1.25"/><circle cx="311.6" cy="292.2" r="1.25"/><circle cx="297.1" cy="292.2" r="1.25"/><circle cx="331.1" cy="294.4" r="1.25"/><circle cx="286.5" cy="294.4" r="1.25"/><circle cx="280.8" cy="294.4" r="1.25"/><circle cx="265.5" cy="311.2" r="1.25"/><circle cx="263.7" cy="312.1" r="1.25"/><circle cx="262.6" cy="312.1" r="1.25"/><circle cx="276.7" cy="313.1" r="1.25"/><circle cx="269" cy="313.1" r="1.25"/><circle cx="284.1" cy="313.9" r="1.25"/><circle cx="283.1" cy="314.9" r="1.25"/><circle cx="270" cy="314.9" r="1.25"/><circle cx="256.3" cy="317.6" r="1.25"/><circle cx="263" cy="317.6" r="1.25"/><circle cx="285.4" cy="321.4" r="1.25"/><circle cx="281.5" cy="321.4" r="1.25"/><circle cx="289.1" cy="322.9" r="1.25"/><circle cx="282.2" cy="322.9" r="1.25"/><circle cx="296.9" cy="323.7" r="1.25"/><circle cx="293.3" cy="323.7" r="1.25"/><circle cx="292.8" cy="323.7" r="1.25"/><circle cx="285.2" cy="323.7" r="1.25"/><circle cx="297.2" cy="325.2" r="1.25"/><circle cx="295.6" cy="325.2" r="1.25"/><circle cx="291.8" cy="326" r="1.25"/><circle cx="289" cy="326" r="1.25"/><circle cx="287.7" cy="326.7" r="1.25"/><circle cx="285.9" cy="327.5" r="1.25"/><circle cx="278.8" cy="327.5" r="1.25"/><circle cx="285.2" cy="328.3" r="1.25"/><circle cx="282" cy="328.3" r="1.25"/><circle cx="299" cy="329" r="1.25"/><circle cx="291.3" cy="329" r="1.25"/><circle cx="274.2" cy="329.8" r="1.25"/><circle cx="278.6" cy="330.6" r="1.25"/><circle cx="272.2" cy="331.3" r="1.25"/><circle cx="271.6" cy="331.3" r="1.25"/><circle cx="294.7" cy="332.1" r="1.25"/><circle cx="289.6" cy="332.1" r="1.25"/><circle cx="294.6" cy="332.9" r="1.25"/><circle cx="290.7" cy="332.9" r="1.25"/><circle cx="290.5" cy="332.9" r="1.25"/><circle cx="292.4" cy="333.6" r="1.25"/><circle cx="282.1" cy="333.6" r="1.25"/><circle cx="288.5" cy="333.6" r="1.25"/><circle cx="143.9" cy="341.4" r="1.25"/><circle cx="188.4" cy="341.4" r="1.25"/><circle cx="229.6" cy="343.9" r="1.25"/><circle cx="150" cy="350.2" r="1.25"/><circle cx="187" cy="350.2" r="1.25"/><circle cx="149" cy="356.6" r="1.25"/><circle cx="343" cy="359.7" r="1.25"/><circle cx="334.4" cy="359.7" r="1.25"/><circle cx="332.9" cy="362.8" r="1.25"/><circle cx="330.4" cy="362.8" r="1.25"/><circle cx="327.2" cy="362.8" r="1.25"/><circle cx="301.5" cy="362.8" r="1.25"/><circle cx="330.9" cy="370.4" r="1.25"/><circle cx="302.6" cy="370.4" r="1.25"/><circle cx="299.6" cy="370.4" r="1.25"/><circle cx="319.2" cy="370.4" r="1.25"/><circle cx="321.9" cy="380.5" r="1.25"/><circle cx="289.5" cy="380.5" r="1.25"/><circle cx="303.3" cy="380.5" r="1.25"/><circle cx="291.2" cy="380.5" r="1.25"/><circle cx="347.7" cy="382.6" r="1.25"/><circle cx="307.9" cy="382.6" r="1.25"/><circle cx="303.2" cy="382.6" r="1.25"/><circle cx="339.4" cy="382.6" r="1.25"/><circle cx="328.4" cy="384.8" r="1.25"/><circle cx="324" cy="384.8" r="1.25"/><circle cx="322.6" cy="384.8" r="1.25"/><circle cx="293.8" cy="384.8" r="1.25"/><circle cx="332" cy="393.2" r="1.25"/><circle cx="311.6" cy="393.2" r="1.25"/><circle cx="195.5" cy="404.2" r="1.25"/><circle cx="157" cy="406.2" r="1.25"/><circle cx="195.5" cy="416.7" r="1.25"/><circle cx="217.7" cy="436.6" r="1.25"/><circle cx="230.5" cy="436.6" r="1.25"/><circle cx="232.8" cy="442.4" r="1.25"/><circle cx="175.6" cy="451.3" r="1.25"/><circle cx="230.5" cy="459.2" r="1.25"/><circle cx="242" cy="462.2" r="1.25"/><circle cx="254.5" cy="462.2" r="1.25"/><circle cx="273" cy="462.2" r="1.25"/><circle cx="290.3" cy="462.2" r="1.25"/><circle cx="235.7" cy="467.6" r="1.25"/><circle cx="145" cy="471.4" r="1.25"/></g>
<g fill="#7fd1b5"><circle cx="298.1" cy="44.5" r="1.25"/><circle cx="323.4" cy="233.6" r="1.25"/><circle cx="308.7" cy="234.7" r="1.25"/><circle cx="308.5" cy="240.4" r="1.25"/><circle cx="298.5" cy="241.5" r="1.25"/><circle cx="330.6" cy="269.7" r="1.25"/><circle cx="273.3" cy="315.8" r="1.25"/><circle cx="155" cy="346.4" r="1.25"/><circle cx="210" cy="401" r="1.25"/><circle cx="222" cy="401" r="1.25"/><circle cx="200" cy="401.5" r="1.25"/><circle cx="230" cy="401.5" r="1.25"/><circle cx="245" cy="401.5" r="1.25"/><circle cx="232.8" cy="408.5" r="1.25"/><circle cx="233" cy="412" r="1.25"/><circle cx="200" cy="435.4" r="1.25"/><circle cx="158" cy="438.9" r="1.25"/><circle cx="171" cy="438.9" r="1.25"/><circle cx="185" cy="438.9" r="1.25"/><circle cx="201" cy="438.9" r="1.25"/><circle cx="198" cy="443.4" r="1.25"/></g>
<g fill="#7b5a45"><circle cx="280.7" cy="336.6" r="1.25"/><circle cx="210" cy="340.4" r="1.25"/><circle cx="200" cy="353.3" r="1.25"/><circle cx="344.1" cy="363.5" r="1.25"/><circle cx="341.1" cy="364.3" r="1.25"/><circle cx="343.4" cy="372.7" r="1.25"/><circle cx="302.2" cy="373.5" r="1.25"/><circle cx="291.5" cy="381.6" r="1.25"/><circle cx="326" cy="397.4" r="1.25"/><circle cx="307.6" cy="398.5" r="1.25"/><circle cx="214" cy="407.3" r="1.25"/><circle cx="186" cy="420.2" r="1.25"/><circle cx="271.9" cy="422.2" r="1.25"/><circle cx="222.3" cy="424.9" r="1.25"/><circle cx="186" cy="447.3" r="1.25"/><circle cx="176.8" cy="466.1" r="1.25"/></g>
<g fill="#b9a58e"><circle cx="200" cy="339.6" r="1.25"/><circle cx="148.3" cy="347.8" r="1.25"/><circle cx="263.4" cy="347.8" r="1.25"/><circle cx="222.5" cy="352.2" r="1.25"/><circle cx="326.2" cy="392.1" r="1.25"/><circle cx="325.4" cy="394.2" r="1.25"/><circle cx="320.9" cy="395.3" r="1.25"/><circle cx="232" cy="399.6" r="1.25"/><circle cx="238" cy="399.6" r="1.25"/><circle cx="244.7" cy="399.6" r="1.25"/><circle cx="267" cy="399.6" r="1.25"/><circle cx="200" cy="409.7" r="1.25"/><circle cx="157" cy="410.9" r="1.25"/><circle cx="202.5" cy="410.9" r="1.25"/><circle cx="190" cy="413.2" r="1.25"/><circle cx="356.7" cy="419.1" r="1.25"/><circle cx="360.8" cy="419.1" r="1.25"/><circle cx="218" cy="421.2" r="1.25"/><circle cx="276" cy="437.4" r="1.25"/><circle cx="180" cy="441.2" r="1.25"/><circle cx="195.5" cy="449.4" r="1.25"/><circle cx="170" cy="450.5" r="1.25"/><circle cx="205" cy="452.4" r="1.25"/><circle cx="197.8" cy="453.6" r="1.25"/><circle cx="137" cy="455.2" r="1.25"/><circle cx="144" cy="457.6" r="1.25"/><circle cx="175" cy="460.2" r="1.25"/><circle cx="132" cy="461.1" r="1.25"/><circle cx="170" cy="464.6" r="1.25"/><circle cx="242" cy="465.8" r="1.25"/><circle cx="137" cy="468.8" r="1.25"/></g>
<g fill="#8c99c9"><circle cx="172.4" cy="345.2" r="1.25"/><circle cx="182.6" cy="345.2" r="1.25"/><circle cx="175" cy="351.3" r="1.25"/><circle cx="263.4" cy="354.2" r="1.25"/><circle cx="336.3" cy="379.6" r="1.25"/><circle cx="160" cy="414.2" r="1.25"/><circle cx="200" cy="433.3" r="1.25"/><circle cx="195" cy="440.1" r="1.25"/></g>
<g fill="#222222"><circle cx="139.4" cy="415.5" r="1.25"/></g>
<circle cx="220.6" cy="305" r="4.6" fill="#f29173"/><text x="212.8" y="300.5" font-size="11.5" fill="#f4a080" text-anchor="middle">1</text><polyline points="86.9,280.3 168.8,280.3 220.6,305" fill="none" stroke="#222" stroke-width="0.9"/>
<line x1="48.2" y1="472.3" x2="330" y2="472.3" stroke="#333" stroke-width="1"/>
<line x1="102.6" y1="472.3" x2="102.6" y2="475" stroke="#333" stroke-width="0.9"/>
<text x="102.6" y="483.3" font-size="10" fill="#111" text-anchor="middle" textLength="31.5" lengthAdjust="spacingAndGlyphs">Jan 2020</text>
<line x1="167.3" y1="472.3" x2="167.3" y2="475" stroke="#333" stroke-width="0.9"/>
<text x="167.3" y="483.3" font-size="10" fill="#111" text-anchor="middle" textLength="31.5" lengthAdjust="spacingAndGlyphs">Jul 2020</text>
<line x1="232.5" y1="472.3" x2="232.5" y2="475" stroke="#333" stroke-width="0.9"/>
<text x="232.5" y="483.3" font-size="10" fill="#111" text-anchor="middle" textLength="31.5" lengthAdjust="spacingAndGlyphs">Jan 2021</text>
<line x1="297.5" y1="472.3" x2="297.5" y2="475" stroke="#333" stroke-width="0.9"/>
<text x="297.5" y="483.3" font-size="10" fill="#111" text-anchor="middle" textLength="31.5" lengthAdjust="spacingAndGlyphs">Jul 2021</text>
<text x="404" y="16.5" font-size="19" fill="#000" font-weight="bold">c.</text>
<polyline points="443.6,89.8 447.4,88.3 449.5,83.2 451,83.8 451.9,134 453.4,191 454.9,200 457,198.4 459.3,191 463.8,170 466.8,159.7 469.8,152.3 472,151 474.2,149.3 477.2,141.8 480.2,152.3 482,150 484,150.8 487.6,137.4 490,131 492,127 494,124 496.5,121 499,118 501,116.5 504,113.6 506,110 508.5,103 510.8,104 513.8,91.3 515.9,110.6 518,134.4 521,124 524.8,107.6 529.3,101.7 533.8,104 534.3,102.6 535.4,116.7 538.6,117.8 540.8,113.4 543,107 546.2,99.4 549.4,94 550.5,93 552.6,96.2 554.8,89.7 557,86.5 559,80 561.3,77.8 563.4,73.5 565.2,76.8 567.7,71.4 569.9,68.1 573.1,67 575.3,64.9 577.5,62.7 580,69.2 581.8,59.5 583.9,56.3 586.1,58.4 587.8,50.9 590,43.3 591.5,45.5 593,40.1 594.3,50.9 594.7,43.3 597.3,43.3 599,70.3 602.3,57.4 604.4,44.4 605.5,43.3 629.2,43.3" fill="none" stroke="#cdcdcd" stroke-width="0.95"/>
<polygon points="517.9,69.6 520.7,69.6 521.5,45 523,37 524,35.5 527,36.5 529.4,38 531,50 532.9,77 535,112 537,120 538.5,122.5 540,116 541.6,107.5 545,106 548.5,107.5 551,118 553.5,135 555.5,143.5 557,148 560,150 570,150.1 572,155.1 588.8,155.1 591,152 593,148.7 598.9,148.7 600.3,155 601.5,172.4 611,172.4 611,191 601.5,191 600.5,176 598,168.8 590,168.8 588,171 572,171 570,165.2 560,165.2 555,168.8 550,167.9 547,157 544.4,148.7 541.5,152 538.5,162 536,167.9 534.6,167.9 531,158 528.5,142 526.6,136.5 524.5,140 522.5,160 520.7,178.3 517.9,178.3" fill="#f3a189" fill-opacity="0.78"/>
<polyline points="520.7,120 523,100 525,88 527,92 529,105 531,118 533,135 535,148 537,152 539,145 541,135 544,128 547,131 550,141 553,150 557,157 570,157.5 572,161.5 589,161.5 593,158 599,158 601,181 611,181" fill="none" stroke="#ee9a82" stroke-width="0.7"/>
<line x1="443.5" y1="27" x2="443.5" y2="202.4" stroke="#999" stroke-width="1"/>
<line x1="451.2" y1="27" x2="451.2" y2="202.4" stroke="#3a4ff0" stroke-width="1" stroke-dasharray="2,1.6"/>
<line x1="520.4" y1="27" x2="520.4" y2="202.4" stroke="#f47272" stroke-width="1" stroke-dasharray="1.2,0.5"/>
<line x1="429" y1="160.7" x2="629" y2="160.7" stroke="#f03a3a" stroke-width="1.6" stroke-dasharray="4.2,3.7"/>
<line x1="429.3" y1="34.6" x2="429.3" y2="202.4" stroke="#858585" stroke-width="1"/>
<line x1="428" y1="202.4" x2="628.5" y2="202.4" stroke="#858585" stroke-width="1"/>
<line x1="629.5" y1="34.4" x2="629.5" y2="202.4" stroke="#858585" stroke-width="1"/>
<line x1="426" y1="201.9" x2="429.3" y2="201.9" stroke="#858585" stroke-width="0.9"/>
<text x="425.8" y="205.9" font-size="11" fill="#111" text-anchor="end">0</text>
<line x1="426" y1="160.1" x2="429.3" y2="160.1" stroke="#858585" stroke-width="0.9"/>
<text x="425.8" y="164.1" font-size="11" fill="#111" text-anchor="end">1</text>
<line x1="426" y1="118.3" x2="429.3" y2="118.3" stroke="#858585" stroke-width="0.9"/>
<text x="425.8" y="122.3" font-size="11" fill="#111" text-anchor="end">2</text>
<line x1="426" y1="76.5" x2="429.3" y2="76.5" stroke="#858585" stroke-width="0.9"/>
<text x="425.8" y="80.5" font-size="11" fill="#111" text-anchor="end">3</text>
<line x1="426" y1="34.7" x2="429.3" y2="34.7" stroke="#858585" stroke-width="0.9"/>
<text x="425.8" y="38.7" font-size="11" fill="#111" text-anchor="end">4</text>
<line x1="629.5" y1="34.4" x2="633" y2="34.4" stroke="#858585" stroke-width="0.9"/>
<text x="636" y="38.4" font-size="11" fill="#111">40</text>
<line x1="629.5" y1="89" x2="633" y2="89" stroke="#858585" stroke-width="0.9"/>
<text x="636" y="93" font-size="11" fill="#111">0</text>
<line x1="629.5" y1="146.5" x2="633" y2="146.5" stroke="#858585" stroke-width="0.9"/>
<text x="636" y="150.5" font-size="11" fill="#111">40</text>
<line x1="629.5" y1="200.7" x2="633" y2="200.7" stroke="#858585" stroke-width="0.9"/>
<text x="636" y="204.7" font-size="11" fill="#111">80</text>
<line x1="429.1" y1="202.4" x2="429.1" y2="205" stroke="#858585" stroke-width="0.9"/>
<line x1="477.4" y1="202.4" x2="477.4" y2="205" stroke="#858585" stroke-width="0.9"/>
<line x1="525" y1="202.4" x2="525" y2="205" stroke="#858585" stroke-width="0.9"/>
<line x1="572.7" y1="202.4" x2="572.7" y2="205" stroke="#858585" stroke-width="0.9"/>
<line x1="620.3" y1="202.4" x2="620.3" y2="205" stroke="#858585" stroke-width="0.9"/>
<text x="437" y="215.8" font-size="10.3" fill="#111" text-anchor="middle" textLength="32" lengthAdjust="spacingAndGlyphs">Jan 2020</text>
<text x="531.6" y="215.8" font-size="10.3" fill="#111" text-anchor="middle" textLength="32" lengthAdjust="spacingAndGlyphs">Jan 2021</text>
<text x="626" y="215.8" font-size="10.3" fill="#111" text-anchor="middle" textLength="32" lengthAdjust="spacingAndGlyphs">Jan 2022</text>
<text x="526.7" y="234" font-size="13" fill="#111" text-anchor="middle">Date</text>
<text x="657.5" y="118.6" font-size="12" fill="#111" text-anchor="middle" transform="rotate(90 657.5 118.6)">Mobility</text>
<text x="410.5" y="120.8" font-size="12.5" text-anchor="middle" transform="rotate(-90 410.5 120.8)" fill="#111"><tspan font-style="italic">R</tspan><tspan font-size="8.5" font-style="italic" dy="1.8">e</tspan></text>
<text x="405.3" y="257.5" font-size="19" fill="#000" font-weight="bold">d.</text>
<line x1="476.9" y1="287" x2="476.9" y2="443.5" stroke="#d9d9d9" stroke-width="2.6"/>
<line x1="509.7" y1="287" x2="509.7" y2="443.5" stroke="#d9d9d9" stroke-width="2.6"/>
<line x1="533.3" y1="287" x2="533.3" y2="443.5" stroke="#d9d9d9" stroke-width="2.6"/>
<line x1="574" y1="287" x2="574" y2="443.5" stroke="#d9d9d9" stroke-width="2.6"/>
<line x1="447.9" y1="287" x2="447.9" y2="443.5" stroke="#b0b0b0" stroke-width="1.3"/>
<line x1="453.6" y1="287" x2="453.6" y2="443.5" stroke="#7080f0" stroke-width="0.7" stroke-dasharray="0.8,1.2"/>
<text x="473.7" y="305.5" font-size="12" fill="#111" text-anchor="middle" font-style="italic" transform="rotate(-90 473.7 305.5)">wave 1</text>
<text x="507.6" y="305.5" font-size="12" fill="#111" text-anchor="middle" font-style="italic" transform="rotate(-90 507.6 305.5)">wave 2</text>
<text x="530" y="305.5" font-size="12" fill="#111" text-anchor="middle" font-style="italic" transform="rotate(-90 530 305.5)">wave 3</text>
<text x="572.3" y="305.5" font-size="12" fill="#111" text-anchor="middle" font-style="italic" transform="rotate(-90 572.3 305.5)">wave 4</text>
<line x1="429.2" y1="287" x2="429.2" y2="444.3" stroke="#858585" stroke-width="1"/>
<line x1="429.2" y1="444.3" x2="609.5" y2="444.3" stroke="#858585" stroke-width="1"/>
<line x1="425.5" y1="320.3" x2="429.2" y2="320.3" stroke="#858585" stroke-width="0.9"/>
<text x="420.4" y="323" font-size="8.6" fill="#111" text-anchor="end">75</text>
<line x1="425.5" y1="359.4" x2="429.2" y2="359.4" stroke="#858585" stroke-width="0.9"/>
<text x="420.4" y="362.1" font-size="8.6" fill="#111" text-anchor="end">50</text>
<line x1="425.5" y1="398.4" x2="429.2" y2="398.4" stroke="#858585" stroke-width="0.9"/>
<text x="420.4" y="401.1" font-size="8.6" fill="#111" text-anchor="end">25</text>
<line x1="425.5" y1="437.5" x2="429.2" y2="437.5" stroke="#858585" stroke-width="0.9"/>
<text x="420.4" y="440.2" font-size="8.6" fill="#111" text-anchor="end">0.0</text>
<line x1="437.7" y1="444.3" x2="437.7" y2="446.8" stroke="#858585" stroke-width="0.9"/>
<line x1="472.5" y1="444.3" x2="472.5" y2="446.8" stroke="#858585" stroke-width="0.9"/>
<line x1="505" y1="444.3" x2="505" y2="446.8" stroke="#858585" stroke-width="0.9"/>
<line x1="540" y1="444.3" x2="540" y2="446.8" stroke="#858585" stroke-width="0.9"/>
<line x1="573.5" y1="444.3" x2="573.5" y2="446.8" stroke="#858585" stroke-width="0.9"/>
<line x1="607" y1="444.3" x2="607" y2="446.8" stroke="#858585" stroke-width="0.9"/>
<text x="445.4" y="456.5" font-size="10" fill="#111" text-anchor="middle" textLength="32" lengthAdjust="spacingAndGlyphs">Jan 2020</text>
<text x="513.2" y="456.5" font-size="10" fill="#111" text-anchor="middle" textLength="32" lengthAdjust="spacingAndGlyphs">Jan 2021</text>
<text x="581.3" y="456.5" font-size="10" fill="#111" text-anchor="middle" textLength="32" lengthAdjust="spacingAndGlyphs">Jan 2022</text>
<text x="518" y="472.6" font-size="13" fill="#111" text-anchor="middle">Date</text>
<text x="402.2" y="351.5" font-size="12.5" fill="#111" text-anchor="middle" font-style="italic" transform="rotate(-90 402.2 351.5)">Ne</text>
<polyline points="450,437 470,436.5 477,429.6 482,427 487,426 534,426" fill="none" stroke="#62c97c" stroke-width="1.1" stroke-linejoin="round"/>
<polyline points="450,435 545.4,434.6" fill="none" stroke="#98d5c5" stroke-width="1.3" stroke-linejoin="round"/>
<polyline points="497,436 500,430 505,428.4 512,428.4 516,432 520,433" fill="none" stroke="#7ba07e" stroke-width="1" stroke-linejoin="round"/>
<polyline points="515.6,425.4 534.2,425.4" fill="none" stroke="#3c4e8a" stroke-width="1.4" stroke-linejoin="round"/>
<polyline points="457,437.6 470,437 482,432.6 533,432.6" fill="none" stroke="#ff00ff" stroke-width="1.2" stroke-linejoin="round"/>
<polyline points="489.5,435 540.4,435" fill="none" stroke="#e00010" stroke-width="1.1" stroke-linejoin="round"/>
<polyline points="529,432 539,427 544,418.5 548,417 551.6,422 556.5,428.4 560,419.7 562.8,416.7 578.9,416.7" fill="none" stroke="#84cce4" stroke-width="1.3" stroke-linejoin="round"/>
<polyline points="564,437.6 567,436 569,433 571.4,431.6 576,431.6" fill="none" stroke="#8a90bf" stroke-width="1.2" stroke-linejoin="round"/>
<polyline points="518,437 520,430 523,417 526.3,407 528.6,405.6 530.6,402 533.5,397.2 567.7,397.2" fill="none" stroke="#0e9c8a" stroke-width="1.3" stroke-linejoin="round"/>
<polyline points="516,437 519,420 522,395 524,382 527,366 528.6,356 530,337.5 531.5,308.7 532.6,293.8 539.3,293.8 541.3,308.7 543,389 544,396.4 567,396.4" fill="none" stroke="#f29a84" stroke-width="1.2" stroke-linejoin="round"/>
<text x="625.3" y="297" font-size="12.5" fill="#111">VOCI</text>
<rect x="625.3" y="305.8" width="10.5" height="10" fill="#e00010"/>
<text x="643.4" y="314.4" font-size="10.5" fill="#111" font-family="Liberation Serif">Alpha</text>
<rect x="625.3" y="317.2" width="10.5" height="10" fill="#3c4e8a"/>
<text x="643.4" y="325.8" font-size="10.5" fill="#111" font-family="Liberation Serif">Lambda</text>
<rect x="625.3" y="328.6" width="10.5" height="10" fill="#0e9c8a"/>
<text x="643.4" y="337.2" font-size="10.5" fill="#111" font-family="Liberation Serif">Gamma</text>
<rect x="625.3" y="340.1" width="10.5" height="10" fill="#8a90bf"/>
<text x="643.4" y="348.7" font-size="10.5" fill="#111" font-family="Liberation Serif">Omicron</text>
<rect x="625.3" y="351.5" width="10.5" height="10" fill="#84cce4"/>
<text x="643.4" y="360.1" font-size="10.5" fill="#111" font-family="Liberation Serif">Delta</text>
<rect x="625.3" y="362.9" width="10.5" height="10" fill="#5b3cc4"/>
<text x="643.4" y="371.5" font-size="10.5" fill="#111" font-family="Liberation Serif">B.1.625</text>
<rect x="625.3" y="374.3" width="10.5" height="10" fill="#7ba07e"/>
<text x="643.4" y="382.9" font-size="10.5" fill="#111" font-family="Liberation Serif">B.1.1.348</text>
<rect x="625.3" y="385.7" width="10.5" height="10" fill="#f29a84"/>
<text x="643.4" y="394.3" font-size="10.5" fill="#111" font-family="Liberation Serif">Mu</text>
<rect x="625.3" y="397.2" width="10.5" height="10" fill="#98d5c5"/>
<text x="643.4" y="405.8" font-size="10.5" fill="#111" font-family="Liberation Serif">B.1</text>
<rect x="625.3" y="408.6" width="10.5" height="10" fill="#62c97c"/>
<text x="643.4" y="417.2" font-size="10.5" fill="#111" font-family="Liberation Serif">B.1.111</text>
<rect x="625.3" y="420" width="10.5" height="10" fill="#2e4a36"/>
<text x="643.4" y="428.6" font-size="10.5" fill="#111" font-family="Liberation Serif">B.1.1</text>
<rect x="625.3" y="431.4" width="10.5" height="10" fill="#ff00ff"/>
<text x="643.4" y="440" font-size="10.5" fill="#111" font-family="Liberation Serif">B.1.420</text>
</svg></body></html>
